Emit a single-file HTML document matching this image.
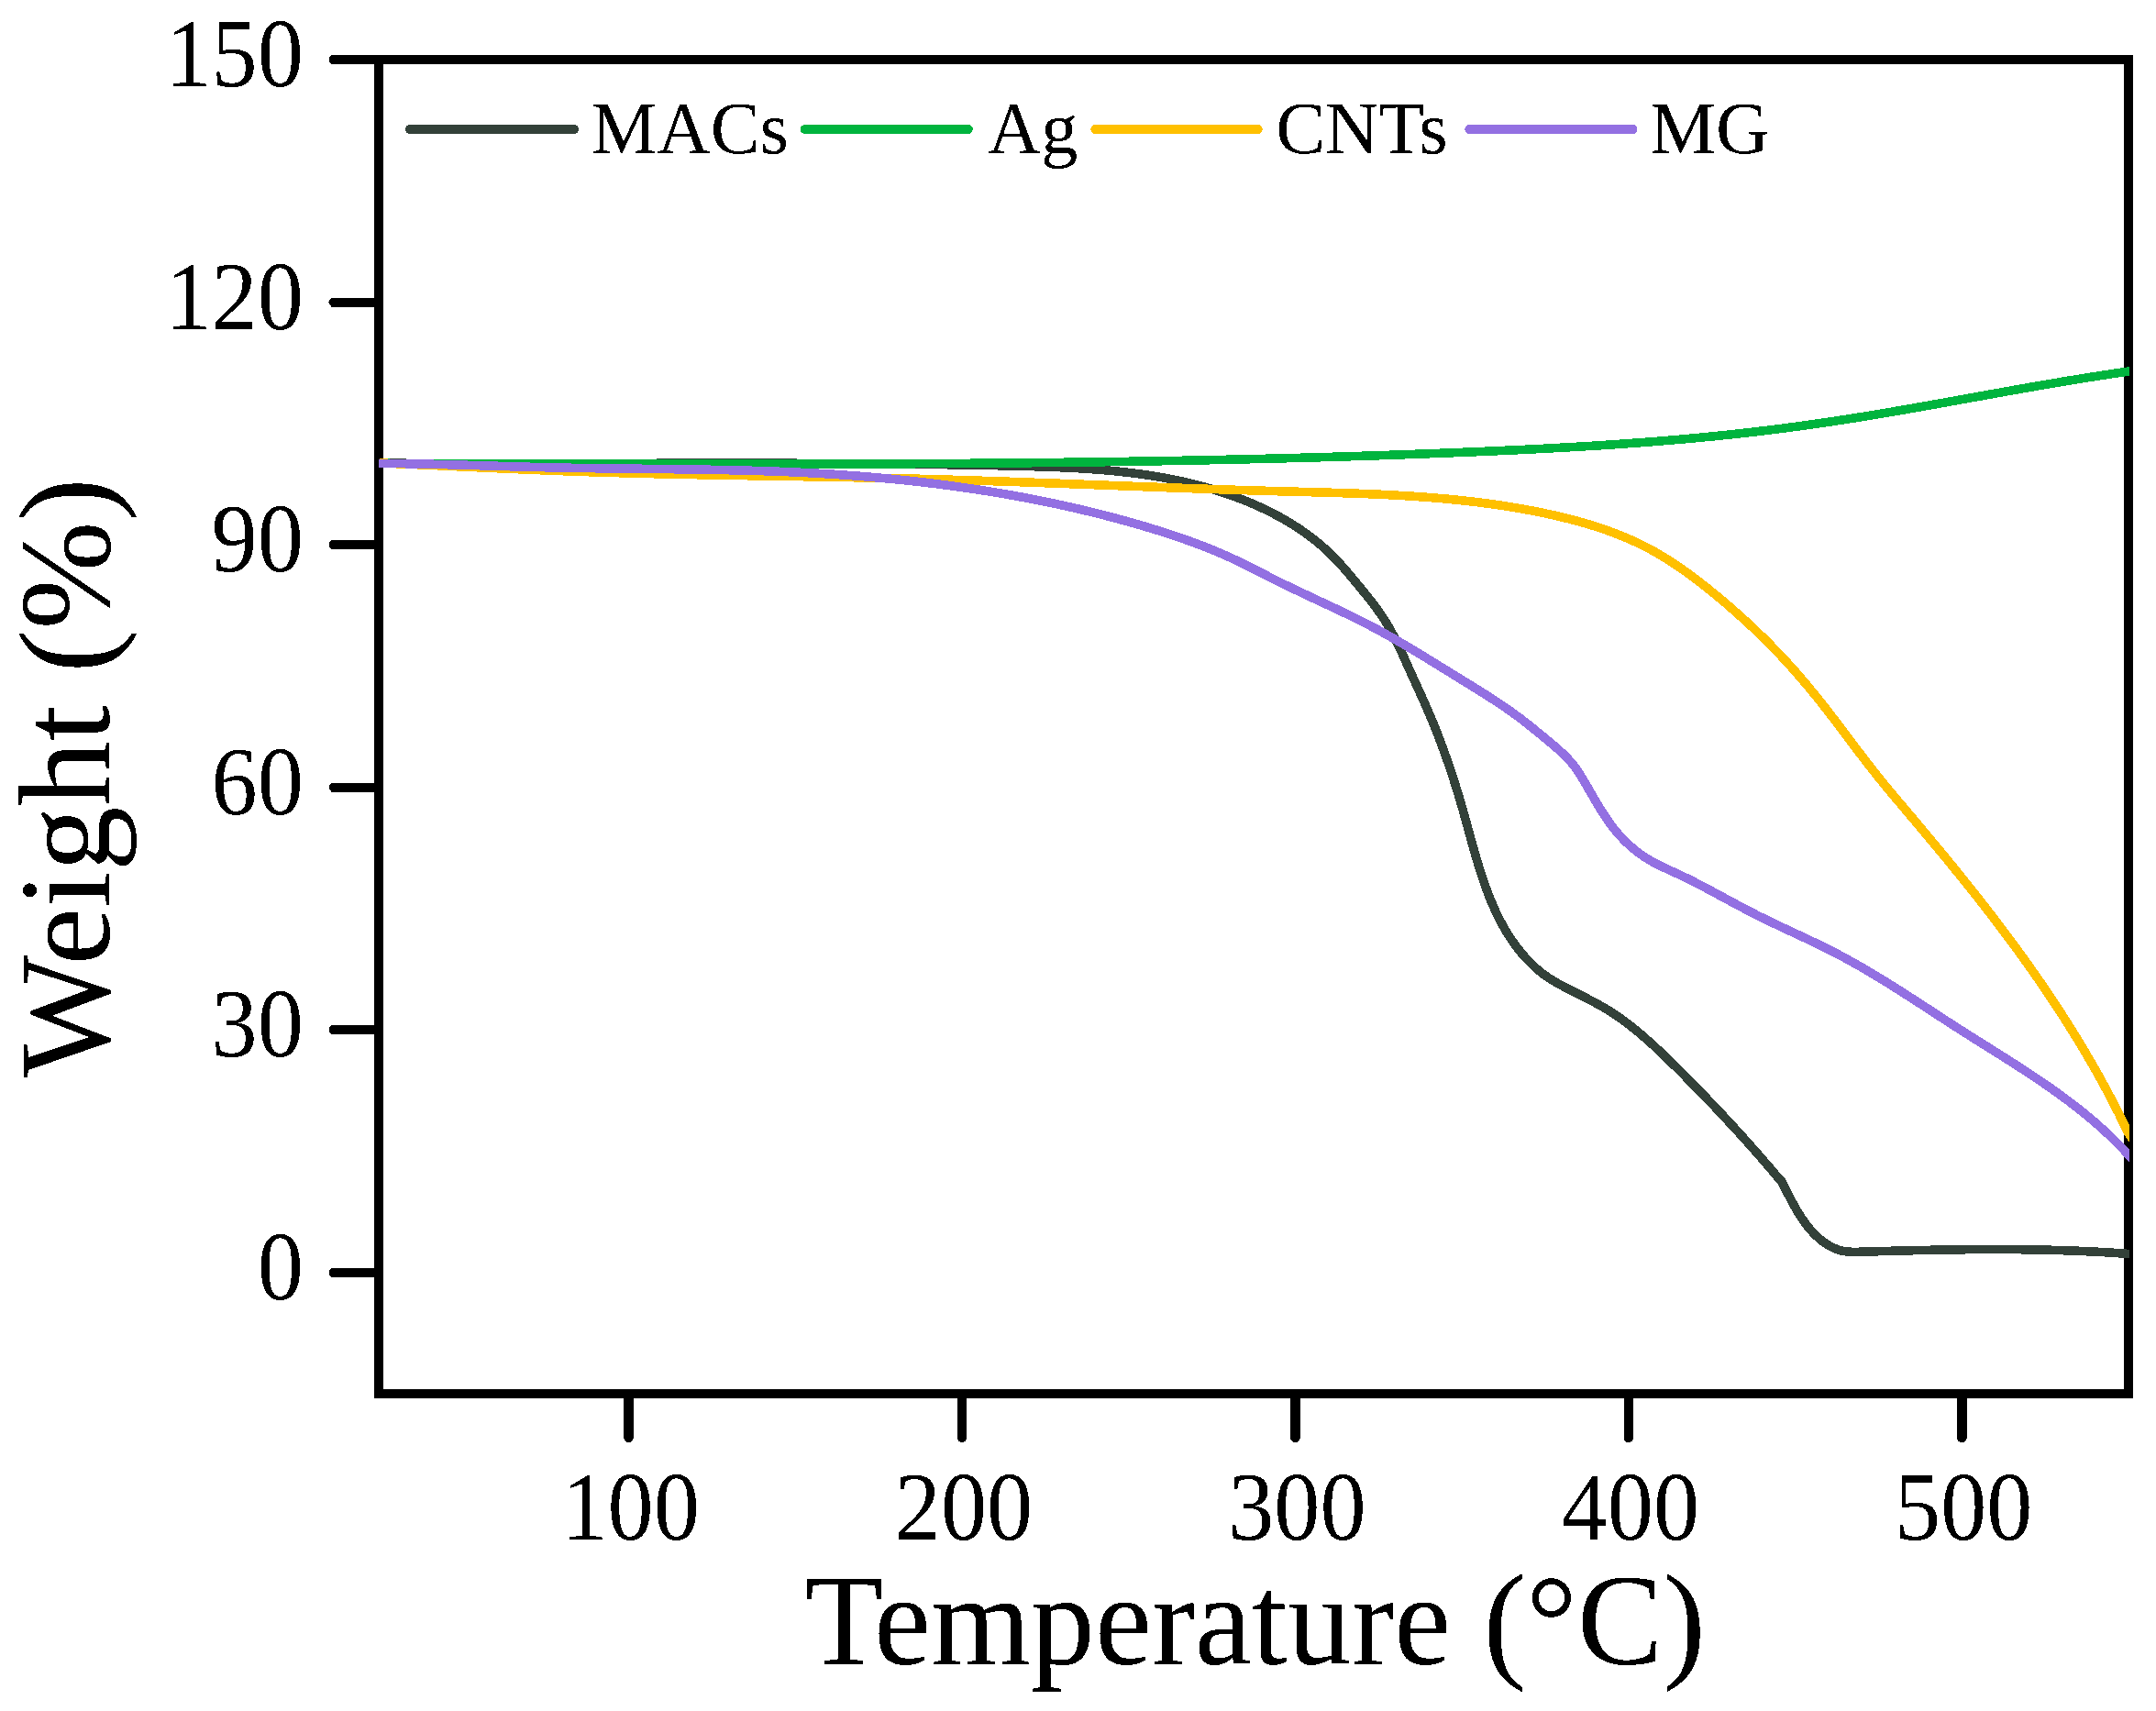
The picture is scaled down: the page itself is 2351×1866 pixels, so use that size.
<!DOCTYPE html><html><head><meta charset="utf-8"><title>TGA curves</title><style>html,body{margin:0;padding:0;background:#fff}svg{display:block}text{font-family:"Liberation Serif","Times New Roman",serif;fill:#000}</style></head><body>
<svg xmlns="http://www.w3.org/2000/svg" width="2351" height="1866" viewBox="0 0 2351 1866" shape-rendering="crispEdges">
<defs><filter id="bin" x="0" y="0" width="1" height="1" color-interpolation-filters="sRGB"><feComponentTransfer><feFuncA type="discrete" tableValues="0 1"/></feComponentTransfer></filter></defs>
<rect width="2351" height="1866" fill="#fff"/>
<rect x="413" y="65" width="1908" height="1455" fill="none" stroke="#000" stroke-width="10"/>
<path d="M361,65.0 H413" stroke="#000" stroke-width="10"/>
<circle cx="363.5" cy="65.0" r="5" fill="#000"/>
<path d="M361,329.5 H413" stroke="#000" stroke-width="10"/>
<circle cx="363.5" cy="329.5" r="5" fill="#000"/>
<path d="M361,594.1 H413" stroke="#000" stroke-width="10"/>
<circle cx="363.5" cy="594.1" r="5" fill="#000"/>
<path d="M361,858.6 H413" stroke="#000" stroke-width="10"/>
<circle cx="363.5" cy="858.6" r="5" fill="#000"/>
<path d="M361,1123.2 H413" stroke="#000" stroke-width="10"/>
<circle cx="363.5" cy="1123.2" r="5" fill="#000"/>
<path d="M361,1387.7 H413" stroke="#000" stroke-width="10"/>
<circle cx="363.5" cy="1387.7" r="5" fill="#000"/>
<path d="M685.6,1520 V1569" stroke="#000" stroke-width="10.5"/>
<circle cx="685.6" cy="1568" r="5.2" fill="#000"/>
<path d="M1049.0,1520 V1569" stroke="#000" stroke-width="10.5"/>
<circle cx="1049.0" cy="1568" r="5.2" fill="#000"/>
<path d="M1412.4,1520 V1569" stroke="#000" stroke-width="10.5"/>
<circle cx="1412.4" cy="1568" r="5.2" fill="#000"/>
<path d="M1775.9,1520 V1569" stroke="#000" stroke-width="10.5"/>
<circle cx="1775.9" cy="1568" r="5.2" fill="#000"/>
<path d="M2139.3,1520 V1569" stroke="#000" stroke-width="10.5"/>
<circle cx="2139.3" cy="1568" r="5.2" fill="#000"/>
<g filter="url(#bin)">
<text transform="translate(330.8,94.1) scale(0.955,1)" font-size="105" text-anchor="end">150</text>
<text transform="translate(330.8,358.6) scale(0.955,1)" font-size="105" text-anchor="end">120</text>
<text transform="translate(330.8,623.2) scale(0.955,1)" font-size="105" text-anchor="end">90</text>
<text transform="translate(330.8,887.7) scale(0.955,1)" font-size="105" text-anchor="end">60</text>
<text transform="translate(330.8,1152.3) scale(0.955,1)" font-size="105" text-anchor="end">30</text>
<text transform="translate(330.8,1416.8) scale(0.955,1)" font-size="105" text-anchor="end">0</text>
<text transform="translate(687.6,1679) scale(0.955,1)" font-size="105" text-anchor="middle">100</text>
<text transform="translate(1051.0,1679) scale(0.955,1)" font-size="105" text-anchor="middle">200</text>
<text transform="translate(1414.4,1679) scale(0.955,1)" font-size="105" text-anchor="middle">300</text>
<text transform="translate(1777.9,1679) scale(0.955,1)" font-size="105" text-anchor="middle">400</text>
<text transform="translate(2141.3,1679) scale(0.955,1)" font-size="105" text-anchor="middle">500</text>
<text transform="translate(877.4,1815) scale(0.9855,1)" font-size="142">Temperature (°C)</text>
<text transform="translate(119,1175.1) rotate(-90) scale(0.9985,1)" font-size="142">Weight (%)</text>
<text x="644.5" y="166.8" font-size="80.8">MACs</text>
<text x="1076.7" y="166.8" font-size="80.8">Ag</text>
<text x="1391.2" y="166.8" font-size="80.8">CNTs</text>
<text x="1799.2" y="166.8" font-size="80.8">MG</text>
</g>
<defs><clipPath id="pa"><rect x="413" y="60" width="1908.8" height="1470"/></clipPath></defs>
<g clip-path="url(#pa)" fill="none" stroke-width="9.6" stroke-linejoin="round">
<path d="M413.00,505.40 L415.82,505.13 L418.84,505.15 L421.86,505.17 L424.88,505.19 L427.90,505.21 L430.92,505.23 L433.94,505.25 L436.96,505.26 L439.98,505.28 L443.00,505.30 L446.01,505.31 L449.03,505.33 L452.05,505.34 L455.07,505.36 L458.08,505.37 L461.10,505.38 L464.11,505.40 L467.13,505.41 L470.14,505.42 L473.16,505.43 L476.17,505.44 L479.18,505.45 L482.20,505.46 L485.21,505.47 L488.22,505.48 L491.23,505.49 L494.25,505.50 L497.26,505.50 L500.27,505.51 L503.28,505.52 L506.29,505.52 L509.30,505.53 L512.31,505.53 L515.32,505.54 L518.33,505.54 L521.33,505.54 L524.34,505.55 L527.35,505.55 L530.36,505.55 L533.36,505.56 L536.37,505.56 L539.38,505.56 L542.38,505.56 L545.39,505.56 L548.40,505.56 L551.40,505.56 L554.41,505.56 L557.41,505.56 L560.42,505.56 L563.42,505.56 L566.42,505.56 L569.43,505.56 L572.43,505.56 L575.43,505.55 L578.44,505.55 L581.44,505.55 L584.44,505.55 L587.45,505.54 L590.45,505.54 L593.45,505.54 L596.45,505.53 L599.45,505.53 L602.45,505.53 L605.45,505.52 L608.46,505.52 L611.46,505.51 L614.46,505.51 L617.46,505.50 L620.46,505.50 L623.46,505.49 L626.46,505.49 L629.46,505.48 L632.45,505.48 L635.45,505.47 L638.45,505.46 L641.45,505.46 L644.45,505.45 L647.45,505.45 L650.45,505.44 L653.44,505.43 L656.44,505.43 L659.44,505.42 L662.44,505.41 L665.44,505.41 L668.43,505.40 L671.43,505.40 L674.43,505.39 L677.42,505.38 L680.42,505.38 L683.42,505.37 L686.42,505.36 L689.41,505.36 L692.41,505.35 L695.41,505.34 L698.40,505.34 L701.40,505.33 L704.39,505.32 L707.39,505.32 L710.39,505.31 L713.38,505.31 L716.38,505.30 L719.37,505.29 L722.37,505.29 L725.37,505.28 L728.36,505.28 L731.36,505.27 L734.35,505.27 L737.35,505.26 L740.34,505.26 L743.34,505.25 L746.34,505.25 L749.33,505.24 L752.33,505.24 L755.32,505.24 L758.32,505.23 L761.31,505.23 L764.31,505.23 L767.30,505.22 L770.30,505.22 L773.30,505.22 L776.29,505.21 L779.29,505.21 L782.28,505.21 L785.28,505.21 L788.27,505.21 L791.27,505.21 L794.27,505.20 L797.26,505.20 L800.26,505.20 L803.25,505.20 L806.25,505.20 L809.25,505.20 L812.24,505.21 L815.24,505.21 L818.23,505.21 L821.23,505.21 L824.23,505.21 L827.22,505.22 L830.22,505.22 L833.22,505.22 L836.21,505.23 L839.21,505.23 L842.21,505.24 L845.21,505.24 L848.20,505.25 L851.20,505.25 L854.20,505.26 L857.19,505.27 L860.19,505.27 L863.19,505.28 L866.19,505.29 L869.19,505.30 L872.19,505.31 L875.18,505.32 L878.18,505.33 L881.18,505.34 L884.18,505.35 L887.18,505.36 L890.18,505.37 L893.18,505.39 L896.18,505.40 L899.18,505.41 L902.18,505.43 L905.18,505.44 L908.18,505.46 L911.18,505.48 L914.18,505.49 L917.18,505.51 L920.18,505.53 L923.18,505.55 L926.19,505.57 L929.19,505.59 L932.19,505.61 L935.19,505.63 L938.20,505.65 L941.20,505.67 L944.20,505.69 L947.21,505.72 L950.21,505.74 L953.21,505.77 L956.22,505.79 L959.22,505.82 L962.23,505.85 L965.23,505.87 L968.24,505.90 L971.24,505.93 L974.25,505.96 L977.25,505.99 L980.26,506.03 L983.27,506.06 L986.28,506.09 L989.28,506.13 L992.29,506.16 L995.30,506.20 L998.31,506.23 L1001.32,506.27 L1004.32,506.31 L1007.33,506.35 L1010.34,506.39 L1013.35,506.43 L1016.36,506.47 L1019.37,506.51 L1022.39,506.55 L1025.40,506.60 L1028.41,506.64 L1031.42,506.69 L1034.43,506.73 L1037.45,506.78 L1040.46,506.83 L1043.47,506.88 L1046.49,506.93 L1049.50,506.98 L1052.52,507.03 L1055.53,507.08 L1058.55,507.14 L1061.56,507.19 L1064.58,507.25 L1067.60,507.30 L1070.61,507.36 L1073.63,507.42 L1076.65,507.48 L1079.67,507.54 L1082.69,507.60 L1085.71,507.67 L1088.73,507.73 L1091.75,507.79 L1094.77,507.86 L1097.79,507.93 L1100.81,508.00 L1103.83,508.06 L1106.86,508.13 L1109.88,508.21 L1112.90,508.28 L1115.92,508.36 L1118.95,508.44 L1121.97,508.52 L1124.99,508.60 L1128.02,508.69 L1131.04,508.78 L1134.06,508.87 L1137.08,508.97 L1140.11,509.07 L1143.13,509.18 L1146.15,509.29 L1149.17,509.41 L1152.19,509.53 L1155.21,509.66 L1158.23,509.79 L1161.24,509.93 L1164.26,510.07 L1167.27,510.22 L1170.29,510.38 L1173.30,510.55 L1176.31,510.72 L1179.32,510.90 L1182.33,511.08 L1185.34,511.28 L1188.34,511.48 L1191.35,511.69 L1194.35,511.91 L1197.35,512.14 L1200.35,512.38 L1203.34,512.63 L1206.34,512.89 L1209.33,513.16 L1212.32,513.43 L1215.31,513.72 L1218.29,514.02 L1221.28,514.33 L1224.26,514.65 L1227.24,514.98 L1230.21,515.33 L1233.19,515.69 L1236.16,516.05 L1239.13,516.43 L1242.09,516.83 L1245.05,517.24 L1248.01,517.66 L1250.97,518.09 L1253.92,518.54 L1256.87,519.00 L1259.82,519.47 L1262.76,519.96 L1265.70,520.47 L1268.64,520.99 L1271.57,521.52 L1274.50,522.07 L1277.42,522.64 L1280.34,523.22 L1283.26,523.82 L1286.17,524.44 L1289.08,525.07 L1291.99,525.72 L1294.89,526.38 L1297.79,527.07 L1300.68,527.77 L1303.57,528.49 L1306.45,529.23 L1309.33,529.98 L1312.21,530.76 L1315.08,531.55 L1317.95,532.37 L1320.81,533.20 L1323.66,534.05 L1326.51,534.93 L1329.36,535.82 L1332.20,536.73 L1335.04,537.67 L1337.87,538.62 L1340.69,539.60 L1343.51,540.60 L1346.33,541.62 L1349.14,542.66 L1351.94,543.73 L1354.74,544.82 L1357.53,545.93 L1360.32,547.06 L1363.10,548.22 L1365.87,549.40 L1368.63,550.60 L1371.39,551.83 L1374.14,553.08 L1376.88,554.36 L1379.61,555.66 L1382.32,556.98 L1385.03,558.33 L1387.72,559.70 L1390.40,561.10 L1393.07,562.52 L1395.72,563.97 L1398.36,565.45 L1400.99,566.95 L1403.59,568.47 L1406.18,570.03 L1408.76,571.60 L1411.31,573.21 L1413.85,574.84 L1416.37,576.50 L1418.87,578.18 L1421.34,579.89 L1423.80,581.63 L1426.24,583.40 L1428.65,585.19 L1431.04,587.01 L1433.40,588.86 L1435.75,590.74 L1438.06,592.64 L1440.35,594.58 L1442.62,596.54 L1444.86,598.53 L1447.07,600.55 L1449.25,602.60 L1451.40,604.68 L1453.53,606.78 L1455.62,608.92 L1457.69,611.08 L1459.73,613.27 L1461.75,615.48 L1463.75,617.72 L1465.73,619.97 L1467.69,622.24 L1469.64,624.52 L1471.58,626.81 L1473.51,629.11 L1475.43,631.42 L1477.35,633.74 L1479.27,636.06 L1481.19,638.37 L1483.11,640.69 L1485.02,643.02 L1486.93,645.34 L1488.82,647.68 L1490.71,650.02 L1492.59,652.36 L1494.44,654.72 L1496.28,657.09 L1498.10,659.48 L1499.90,661.87 L1501.67,664.29 L1503.41,666.72 L1505.13,669.16 L1506.81,671.63 L1508.45,674.12 L1510.06,676.63 L1511.63,679.17 L1513.16,681.73 L1514.66,684.31 L1516.13,686.91 L1517.56,689.52 L1518.97,692.16 L1520.35,694.81 L1521.70,697.48 L1523.04,700.16 L1524.35,702.86 L1525.65,705.56 L1526.94,708.28 L1528.21,711.01 L1529.46,713.74 L1530.71,716.49 L1531.96,719.23 L1533.20,721.99 L1534.43,724.74 L1535.67,727.50 L1536.91,730.26 L1538.15,733.02 L1539.40,735.77 L1540.65,738.53 L1541.91,741.29 L1543.17,744.04 L1544.43,746.80 L1545.69,749.55 L1546.94,752.31 L1548.20,755.06 L1549.45,757.82 L1550.69,760.57 L1551.93,763.33 L1553.16,766.09 L1554.38,768.84 L1555.59,771.60 L1556.79,774.36 L1557.98,777.12 L1559.16,779.88 L1560.32,782.65 L1561.47,785.41 L1562.61,788.18 L1563.74,790.95 L1564.86,793.72 L1565.96,796.49 L1567.06,799.27 L1568.14,802.05 L1569.21,804.82 L1570.27,807.61 L1571.32,810.39 L1572.36,813.18 L1573.39,815.97 L1574.41,818.76 L1575.42,821.56 L1576.42,824.36 L1577.41,827.17 L1578.39,829.97 L1579.36,832.78 L1580.32,835.60 L1581.27,838.42 L1582.21,841.24 L1583.15,844.07 L1584.07,846.90 L1584.99,849.73 L1585.90,852.57 L1586.80,855.42 L1587.69,858.26 L1588.58,861.12 L1589.46,863.98 L1590.33,866.84 L1591.19,869.71 L1592.05,872.58 L1592.89,875.46 L1593.74,878.35 L1594.57,881.24 L1595.40,884.13 L1596.22,887.04 L1597.04,889.94 L1597.85,892.86 L1598.66,895.77 L1599.46,898.69 L1600.27,901.62 L1601.07,904.54 L1601.88,907.47 L1602.68,910.40 L1603.49,913.33 L1604.29,916.25 L1605.11,919.18 L1605.92,922.11 L1606.75,925.04 L1607.58,927.96 L1608.41,930.88 L1609.26,933.80 L1610.11,936.71 L1610.98,939.62 L1611.85,942.52 L1612.74,945.42 L1613.64,948.31 L1614.56,951.19 L1615.49,954.07 L1616.43,956.94 L1617.39,959.80 L1618.37,962.65 L1619.37,965.49 L1620.39,968.32 L1621.42,971.14 L1622.48,973.95 L1623.56,976.74 L1624.67,979.53 L1625.79,982.29 L1626.95,985.05 L1628.13,987.79 L1629.33,990.52 L1630.56,993.23 L1631.82,995.92 L1633.12,998.60 L1634.44,1001.26 L1635.79,1003.90 L1637.17,1006.52 L1638.59,1009.12 L1640.04,1011.71 L1641.53,1014.27 L1643.05,1016.81 L1644.61,1019.34 L1646.21,1021.83 L1647.85,1024.31 L1649.52,1026.76 L1651.24,1029.19 L1653.00,1031.60 L1654.80,1033.98 L1656.64,1036.33 L1658.53,1038.66 L1660.46,1040.96 L1662.44,1043.23 L1664.47,1045.48 L1666.54,1047.69 L1668.66,1049.87 L1670.82,1052.00 L1673.03,1054.09 L1675.28,1056.13 L1677.58,1058.12 L1679.92,1060.05 L1682.30,1061.91 L1684.72,1063.71 L1687.19,1065.44 L1689.69,1067.10 L1692.23,1068.70 L1694.80,1070.25 L1697.40,1071.75 L1700.02,1073.21 L1702.66,1074.64 L1705.31,1076.04 L1707.97,1077.43 L1710.64,1078.80 L1713.31,1080.16 L1715.99,1081.52 L1718.67,1082.87 L1721.35,1084.21 L1724.02,1085.56 L1726.70,1086.92 L1729.37,1088.28 L1732.03,1089.65 L1734.69,1091.03 L1737.34,1092.43 L1739.97,1093.84 L1742.59,1095.28 L1745.20,1096.73 L1747.79,1098.22 L1750.37,1099.73 L1752.92,1101.27 L1755.46,1102.85 L1757.97,1104.46 L1760.47,1106.10 L1762.95,1107.77 L1765.40,1109.46 L1767.85,1111.19 L1770.27,1112.94 L1772.68,1114.72 L1775.07,1116.53 L1777.44,1118.36 L1779.80,1120.21 L1782.15,1122.08 L1784.48,1123.98 L1786.79,1125.90 L1789.09,1127.83 L1791.38,1129.79 L1793.66,1131.76 L1795.93,1133.75 L1798.18,1135.76 L1800.42,1137.78 L1802.65,1139.81 L1804.88,1141.86 L1807.09,1143.92 L1809.29,1145.99 L1811.49,1148.07 L1813.67,1150.16 L1815.85,1152.26 L1818.02,1154.36 L1820.18,1156.47 L1822.34,1158.59 L1824.49,1160.71 L1826.64,1162.84 L1828.78,1164.96 L1830.92,1167.09 L1833.05,1169.23 L1835.18,1171.36 L1837.30,1173.49 L1839.42,1175.63 L1841.54,1177.77 L1843.65,1179.91 L1845.76,1182.05 L1847.86,1184.20 L1849.96,1186.35 L1852.06,1188.50 L1854.15,1190.65 L1856.23,1192.80 L1858.32,1194.96 L1860.40,1197.12 L1862.47,1199.28 L1864.54,1201.44 L1866.61,1203.61 L1868.67,1205.78 L1870.73,1207.96 L1872.79,1210.13 L1874.84,1212.31 L1876.89,1214.49 L1878.93,1216.68 L1880.97,1218.87 L1883.01,1221.06 L1885.05,1223.26 L1887.08,1225.45 L1889.10,1227.66 L1891.13,1229.86 L1893.15,1232.07 L1895.16,1234.28 L1897.17,1236.50 L1899.18,1238.72 L1901.19,1240.95 L1903.19,1243.17 L1905.19,1245.41 L1907.19,1247.64 L1909.18,1249.88 L1911.17,1252.13 L1913.16,1254.38 L1915.14,1256.63 L1917.12,1258.89 L1919.10,1261.15 L1921.07,1263.42 L1923.04,1265.69 L1925.01,1267.97 L1926.98,1270.25 L1928.94,1272.53 L1930.90,1274.82 L1932.86,1277.12 L1934.81,1279.42 L1936.76,1281.72 L1938.71,1284.03 L1940.65,1286.35 L1942.80,1288.40 L1944.02,1291.20 L1945.35,1293.75 L1946.68,1296.33 L1948.03,1298.94 L1949.38,1301.57 L1950.76,1304.23 L1952.15,1306.89 L1953.57,1309.56 L1955.01,1312.23 L1956.49,1314.91 L1957.99,1317.57 L1959.53,1320.22 L1961.11,1322.85 L1962.74,1325.47 L1964.41,1328.05 L1966.12,1330.60 L1967.90,1333.11 L1969.72,1335.58 L1971.61,1338.00 L1973.55,1340.37 L1975.56,1342.68 L1977.64,1344.93 L1979.79,1347.10 L1982.00,1349.19 L1984.27,1351.20 L1986.61,1353.10 L1989.00,1354.90 L1991.45,1356.59 L1993.96,1358.15 L1996.53,1359.57 L1999.15,1360.86 L2001.82,1361.99 L2004.54,1362.97 L2007.31,1363.78 L2010.13,1364.42 L2012.99,1364.87 L2015.90,1365.16 L2018.83,1365.32 L2021.79,1365.38 L2024.78,1365.36 L2027.77,1365.29 L2030.77,1365.20 L2033.77,1365.12 L2036.77,1365.03 L2039.77,1364.94 L2042.77,1364.86 L2045.77,1364.77 L2048.77,1364.68 L2051.77,1364.60 L2054.77,1364.52 L2057.77,1364.43 L2060.77,1364.35 L2063.77,1364.27 L2066.77,1364.19 L2069.77,1364.12 L2072.77,1364.04 L2075.77,1363.96 L2078.77,1363.89 L2081.78,1363.82 L2084.78,1363.74 L2087.78,1363.67 L2090.78,1363.61 L2093.78,1363.54 L2096.78,1363.47 L2099.79,1363.41 L2102.79,1363.35 L2105.79,1363.29 L2108.79,1363.23 L2111.79,1363.17 L2114.80,1363.12 L2117.80,1363.07 L2120.80,1363.02 L2123.80,1362.97 L2126.81,1362.93 L2129.81,1362.88 L2132.81,1362.84 L2135.81,1362.80 L2138.82,1362.77 L2141.82,1362.73 L2144.82,1362.70 L2147.82,1362.67 L2150.83,1362.65 L2153.83,1362.63 L2156.83,1362.61 L2159.83,1362.59 L2162.84,1362.58 L2165.84,1362.56 L2168.84,1362.56 L2171.84,1362.55 L2174.85,1362.55 L2177.85,1362.55 L2180.85,1362.56 L2183.85,1362.56 L2186.86,1362.58 L2189.86,1362.59 L2192.86,1362.61 L2195.86,1362.63 L2198.86,1362.66 L2201.86,1362.68 L2204.87,1362.72 L2207.87,1362.75 L2210.87,1362.79 L2213.87,1362.84 L2216.87,1362.89 L2219.87,1362.94 L2222.87,1363.00 L2225.87,1363.06 L2228.87,1363.12 L2231.88,1363.19 L2234.88,1363.26 L2237.88,1363.34 L2240.88,1363.42 L2243.88,1363.51 L2246.88,1363.60 L2249.88,1363.70 L2252.87,1363.80 L2255.87,1363.90 L2258.87,1364.01 L2261.87,1364.12 L2264.87,1364.24 L2267.87,1364.37 L2270.87,1364.50 L2273.87,1364.63 L2276.86,1364.77 L2279.86,1364.91 L2282.86,1365.06 L2285.86,1365.22 L2288.85,1365.38 L2291.85,1365.54 L2294.85,1365.72 L2297.84,1365.89 L2300.84,1366.07 L2303.83,1366.26 L2306.83,1366.46 L2309.82,1366.65 L2312.82,1366.86 L2315.81,1367.07 L2318.81,1367.29 L2321.80,1367.50 L2329.78,1368.07" stroke="#334139"/>
<path d="M413.00,505.40 L415.82,505.13 L418.84,505.15 L421.86,505.17 L424.88,505.19 L427.90,505.21 L430.92,505.23 L433.94,505.25 L436.96,505.26 L439.98,505.28 L443.00,505.30 L446.01,505.31 L449.03,505.33 L452.05,505.34 L455.07,505.36 L458.08,505.37 L461.10,505.38 L464.11,505.40 L467.13,505.41 L470.14,505.42 L473.16,505.43 L476.17,505.44 L479.18,505.45 L482.20,505.46 L485.21,505.47 L488.22,505.48 L491.23,505.49 L494.25,505.50 L497.26,505.50 L500.27,505.51 L503.28,505.52 L506.29,505.52 L509.30,505.53 L512.31,505.53 L515.32,505.54 L518.33,505.54 L521.33,505.54 L524.34,505.55 L527.35,505.55 L530.36,505.55 L533.36,505.56 L536.37,505.56 L539.38,505.56 L542.38,505.56 L545.39,505.56 L548.40,505.56 L551.40,505.56 L554.41,505.56 L557.41,505.56 L560.42,505.56 L563.42,505.56 L566.42,505.56 L569.43,505.56 L572.43,505.56 L575.43,505.55 L578.44,505.55 L581.44,505.55 L584.44,505.55 L587.45,505.54 L590.45,505.54 L593.45,505.54 L596.45,505.53 L599.45,505.53 L602.45,505.53 L605.45,505.52 L608.46,505.52 L611.46,505.51 L614.46,505.51 L617.46,505.50 L620.46,505.50 L623.46,505.49 L626.46,505.49 L629.46,505.48 L632.45,505.48 L635.45,505.47 L638.45,505.46 L641.45,505.46 L644.45,505.45 L647.45,505.45 L650.45,505.44 L653.44,505.43 L656.44,505.43 L659.44,505.42 L662.44,505.41 L665.44,505.41 L668.43,505.40 L671.43,505.40 L674.43,505.39 L677.42,505.38 L680.42,505.38 L683.42,505.37 L686.42,505.36 L689.41,505.36 L692.41,505.35 L695.41,505.34 L698.40,505.34 L701.40,505.33 L704.39,505.32 L707.39,505.32 L710.39,505.31 L713.38,505.31 L716.38,505.30 L719.37,505.29 L722.37,505.29 L725.37,505.28 L728.36,505.28 L731.36,505.27 L734.35,505.27 L737.35,505.26 L740.34,505.26 L743.34,505.25 L746.34,505.25 L749.33,505.24 L752.33,505.24 L755.32,505.24 L758.32,505.23 L761.31,505.23 L764.31,505.23 L767.30,505.22 L770.30,505.22 L773.30,505.22 L776.29,505.21 L779.29,505.21 L782.28,505.21 L785.28,505.21 L788.27,505.21 L791.27,505.21 L794.27,505.20 L797.26,505.20 L800.26,505.20 L803.25,505.20 L806.25,505.20 L809.25,505.20 L812.24,505.21 L815.24,505.21 L818.23,505.21 L821.23,505.21 L824.23,505.21 L827.22,505.22 L830.22,505.22 L833.22,505.22 L836.21,505.23 L839.21,505.23 L842.21,505.24 L845.21,505.24 L848.20,505.25 L851.20,505.25 L854.20,505.26 L857.19,505.27 L860.19,505.27 L863.19,505.28 L866.19,505.29 L869.19,505.30 L872.19,505.31 L875.18,505.32 L878.18,505.33 L881.18,505.34 L884.18,505.35 L887.18,505.36 L890.18,505.37 L893.18,505.39 L896.18,505.40 L899.18,505.41 L902.18,505.43 L905.18,505.44 L908.18,505.46 L911.18,505.48 L914.18,505.49 L917.18,505.51 L920.18,505.53 L923.18,505.55 L926.19,505.57 L929.19,505.59 L932.19,505.61 L935.19,505.63 L938.20,505.65 L941.20,505.67 L944.20,505.69 L947.21,505.72 L950.21,505.74 L953.21,505.77 L956.22,505.79 L959.22,505.82 L962.23,505.85 L965.23,505.87 L968.24,505.90 L971.24,505.93 L974.25,505.96 L977.25,505.99 L980.26,506.03 L983.27,506.06 L986.28,506.09 L989.28,506.13 L992.29,506.16 L995.30,506.20 L998.31,506.23 L1001.32,506.27 L1004.32,506.31 L1007.33,506.35 L1010.34,506.39 L1013.35,506.43 L1016.36,506.47 L1019.37,506.51 L1022.39,506.55 L1025.40,506.60 L1028.41,506.64 L1031.42,506.69 L1034.43,506.73 L1037.45,506.78 L1040.46,506.83 L1043.47,506.88 L1046.49,506.93 L1049.50,506.98 L1052.52,507.03 L1055.53,507.08 L1058.55,507.14 L1061.56,507.19 L1064.58,507.25 L1067.60,507.30 L1070.61,507.36 L1073.63,507.42 L1076.65,507.48 L1079.67,507.54 L1082.69,507.60 L1085.71,507.67 L1088.73,507.73 L1091.75,507.79 L1094.77,507.86 L1097.79,507.93 L1100.81,508.00 L1103.83,508.06 L1106.86,508.13 L1109.88,508.21 L1112.90,508.28 L1115.92,508.36 L1118.95,508.44 L1121.97,508.52 L1124.99,508.60 L1128.02,508.69 L1131.04,508.78 L1134.06,508.87 L1137.08,508.97 L1140.11,509.07 L1143.13,509.18 L1146.15,509.29 L1149.17,509.41 L1152.19,509.53 L1155.21,509.66 L1158.23,509.79 L1161.24,509.93 L1164.26,510.07 L1167.27,510.22 L1170.29,510.38 L1173.30,510.55 L1176.31,510.72 L1179.32,510.90 L1182.33,511.08 L1185.34,511.28 L1188.34,511.48 L1191.35,511.69 L1194.35,511.91 L1197.35,512.14 L1200.35,512.38 L1203.34,512.63 L1206.34,512.89 L1209.33,513.16 L1212.32,513.43 L1215.31,513.72 L1218.29,514.02 L1221.28,514.33 L1224.26,514.65 L1227.24,514.98 L1230.21,515.33 L1233.19,515.69 L1236.16,516.05 L1239.13,516.43 L1242.09,516.83 L1245.05,517.24 L1248.01,517.66 L1250.97,518.09 L1253.92,518.54 L1256.87,519.00 L1259.82,519.47 L1262.76,519.96 L1265.70,520.47 L1268.64,520.99 L1271.57,521.52 L1274.50,522.07 L1277.42,522.64 L1280.34,523.22 L1283.26,523.82 L1286.17,524.44 L1289.08,525.07 L1291.99,525.72 L1294.89,526.38 L1297.79,527.07 L1300.68,527.77 L1303.57,528.49 L1306.45,529.23 L1309.33,529.98 L1312.21,530.76 L1315.08,531.55 L1317.95,532.37 L1320.81,533.20 L1323.66,534.05 L1326.51,534.93 L1329.36,535.82 L1332.20,536.73 L1335.04,537.67 L1337.87,538.62 L1340.69,539.60 L1343.51,540.60 L1346.33,541.62 L1349.14,542.66 L1351.94,543.73 L1354.74,544.82 L1357.53,545.93 L1360.32,547.06 L1363.10,548.22 L1365.87,549.40 L1368.63,550.60 L1371.39,551.83 L1374.14,553.08 L1376.88,554.36 L1379.61,555.66 L1382.32,556.98 L1385.03,558.33 L1387.72,559.70 L1390.40,561.10 L1393.07,562.52 L1395.72,563.97 L1398.36,565.45 L1400.99,566.95 L1403.59,568.47 L1406.18,570.03 L1408.76,571.60 L1411.31,573.21 L1413.85,574.84 L1416.37,576.50 L1418.87,578.18 L1421.34,579.89 L1423.80,581.63 L1426.24,583.40 L1428.65,585.19 L1431.04,587.01 L1433.40,588.86 L1435.75,590.74 L1438.06,592.64 L1440.35,594.58 L1442.62,596.54 L1444.86,598.53 L1447.07,600.55 L1449.25,602.60 L1451.40,604.68 L1453.53,606.78 L1455.62,608.92 L1457.69,611.08 L1459.73,613.27 L1461.75,615.48 L1463.75,617.72 L1465.73,619.97 L1467.69,622.24 L1469.64,624.52 L1471.58,626.81 L1473.51,629.11 L1475.43,631.42 L1477.35,633.74 L1479.27,636.06 L1481.19,638.37 L1483.11,640.69 L1485.02,643.02 L1486.93,645.34 L1488.82,647.68 L1490.71,650.02 L1492.59,652.36 L1494.44,654.72 L1496.28,657.09 L1498.10,659.48 L1499.90,661.87 L1501.67,664.29 L1503.41,666.72 L1505.13,669.16 L1506.81,671.63 L1508.45,674.12 L1510.06,676.63 L1511.63,679.17 L1513.16,681.73 L1514.66,684.31 L1516.13,686.91 L1517.56,689.52 L1518.97,692.16 L1520.35,694.81 L1521.70,697.48 L1523.04,700.16 L1524.35,702.86 L1525.65,705.56 L1526.94,708.28 L1528.21,711.01 L1529.46,713.74 L1530.71,716.49 L1531.96,719.23 L1533.20,721.99 L1534.43,724.74 L1535.67,727.50 L1536.91,730.26 L1538.15,733.02 L1539.40,735.77 L1540.65,738.53 L1541.91,741.29 L1543.17,744.04 L1544.43,746.80 L1545.69,749.55 L1546.94,752.31 L1548.20,755.06 L1549.45,757.82 L1550.69,760.57 L1551.93,763.33 L1553.16,766.09 L1554.38,768.84 L1555.59,771.60 L1556.79,774.36 L1557.98,777.12 L1559.16,779.88 L1560.32,782.65 L1561.47,785.41 L1562.61,788.18 L1563.74,790.95 L1564.86,793.72 L1565.96,796.49 L1567.06,799.27 L1568.14,802.05 L1569.21,804.82 L1570.27,807.61 L1571.32,810.39 L1572.36,813.18 L1573.39,815.97 L1574.41,818.76 L1575.42,821.56 L1576.42,824.36 L1577.41,827.17 L1578.39,829.97 L1579.36,832.78 L1580.32,835.60 L1581.27,838.42 L1582.21,841.24 L1583.15,844.07 L1584.07,846.90 L1584.99,849.73 L1585.90,852.57 L1586.80,855.42 L1587.69,858.26 L1588.58,861.12 L1589.46,863.98 L1590.33,866.84 L1591.19,869.71 L1592.05,872.58 L1592.89,875.46 L1593.74,878.35 L1594.57,881.24 L1595.40,884.13 L1596.22,887.04 L1597.04,889.94 L1597.85,892.86 L1598.66,895.77 L1599.46,898.69 L1600.27,901.62 L1601.07,904.54 L1601.88,907.47 L1602.68,910.40 L1603.49,913.33 L1604.29,916.25 L1605.11,919.18 L1605.92,922.11 L1606.75,925.04 L1607.58,927.96 L1608.41,930.88 L1609.26,933.80 L1610.11,936.71 L1610.98,939.62 L1611.85,942.52 L1612.74,945.42 L1613.64,948.31 L1614.56,951.19 L1615.49,954.07 L1616.43,956.94 L1617.39,959.80 L1618.37,962.65 L1619.37,965.49 L1620.39,968.32 L1621.42,971.14 L1622.48,973.95 L1623.56,976.74 L1624.67,979.53 L1625.79,982.29 L1626.95,985.05 L1628.13,987.79 L1629.33,990.52 L1630.56,993.23 L1631.82,995.92 L1633.12,998.60 L1634.44,1001.26 L1635.79,1003.90 L1637.17,1006.52 L1638.59,1009.12 L1640.04,1011.71 L1641.53,1014.27 L1643.05,1016.81 L1644.61,1019.34 L1646.21,1021.83 L1647.85,1024.31 L1649.52,1026.76 L1651.24,1029.19 L1653.00,1031.60 L1654.80,1033.98 L1656.64,1036.33 L1658.53,1038.66 L1660.46,1040.96 L1662.44,1043.23 L1664.47,1045.48 L1666.54,1047.69 L1668.66,1049.87 L1670.82,1052.00 L1673.03,1054.09 L1675.28,1056.13 L1677.58,1058.12 L1679.92,1060.05 L1682.30,1061.91 L1684.72,1063.71 L1687.19,1065.44 L1689.69,1067.10 L1692.23,1068.70 L1694.80,1070.25 L1697.40,1071.75 L1700.02,1073.21 L1702.66,1074.64 L1705.31,1076.04 L1707.97,1077.43 L1710.64,1078.80 L1713.31,1080.16 L1715.99,1081.52 L1718.67,1082.87 L1721.35,1084.21 L1724.02,1085.56 L1726.70,1086.92 L1729.37,1088.28 L1732.03,1089.65 L1734.69,1091.03 L1737.34,1092.43 L1739.97,1093.84 L1742.59,1095.28 L1745.20,1096.73 L1747.79,1098.22 L1750.37,1099.73 L1752.92,1101.27 L1755.46,1102.85 L1757.97,1104.46 L1760.47,1106.10 L1762.95,1107.77 L1765.40,1109.46 L1767.85,1111.19 L1770.27,1112.94 L1772.68,1114.72 L1775.07,1116.53 L1777.44,1118.36 L1779.80,1120.21 L1782.15,1122.08 L1784.48,1123.98 L1786.79,1125.90 L1789.09,1127.83 L1791.38,1129.79 L1793.66,1131.76 L1795.93,1133.75 L1798.18,1135.76 L1800.42,1137.78 L1802.65,1139.81 L1804.88,1141.86 L1807.09,1143.92 L1809.29,1145.99 L1811.49,1148.07 L1813.67,1150.16 L1815.85,1152.26 L1818.02,1154.36 L1820.18,1156.47 L1822.34,1158.59 L1824.49,1160.71 L1826.64,1162.84 L1828.78,1164.96 L1830.92,1167.09 L1833.05,1169.23 L1835.18,1171.36 L1837.30,1173.49 L1839.42,1175.63 L1841.54,1177.77 L1843.65,1179.91 L1845.76,1182.05 L1847.86,1184.20 L1849.96,1186.35 L1852.06,1188.50 L1854.15,1190.65 L1856.23,1192.80 L1858.32,1194.96 L1860.40,1197.12 L1862.47,1199.28 L1864.54,1201.44 L1866.61,1203.61 L1868.67,1205.78 L1870.73,1207.96 L1872.79,1210.13 L1874.84,1212.31 L1876.89,1214.49 L1878.93,1216.68 L1880.97,1218.87 L1883.01,1221.06 L1885.05,1223.26 L1887.08,1225.45 L1889.10,1227.66 L1891.13,1229.86 L1893.15,1232.07 L1895.16,1234.28 L1897.17,1236.50 L1899.18,1238.72 L1901.19,1240.95 L1903.19,1243.17 L1905.19,1245.41 L1907.19,1247.64 L1909.18,1249.88 L1911.17,1252.13 L1913.16,1254.38 L1915.14,1256.63 L1917.12,1258.89 L1919.10,1261.15 L1921.07,1263.42 L1923.04,1265.69 L1925.01,1267.97 L1926.98,1270.25 L1928.94,1272.53 L1930.90,1274.82 L1932.86,1277.12 L1934.81,1279.42 L1936.76,1281.72 L1938.71,1284.03 L1940.65,1286.35 L1942.80,1288.40 L1944.02,1291.20 L1945.35,1293.75 L1946.68,1296.33 L1948.03,1298.94 L1949.38,1301.57 L1950.76,1304.23 L1952.15,1306.89 L1953.57,1309.56 L1955.01,1312.23 L1956.49,1314.91 L1957.99,1317.57 L1959.53,1320.22 L1961.11,1322.85 L1962.74,1325.47 L1964.41,1328.05 L1966.12,1330.60 L1967.90,1333.11 L1969.72,1335.58 L1971.61,1338.00 L1973.55,1340.37 L1975.56,1342.68 L1977.64,1344.93 L1979.79,1347.10 L1982.00,1349.19 L1984.27,1351.20 L1986.61,1353.10 L1989.00,1354.90 L1991.45,1356.59 L1993.96,1358.15 L1996.53,1359.57 L1999.15,1360.86 L2001.82,1361.99 L2004.54,1362.97 L2007.31,1363.78 L2010.13,1364.42 L2012.99,1364.87 L2015.90,1365.16 L2018.83,1365.32 L2021.79,1365.38 L2024.78,1365.36 L2027.77,1365.29 L2030.77,1365.20 L2033.77,1365.12 L2036.77,1365.03 L2039.77,1364.94 L2042.77,1364.86 L2045.77,1364.77 L2048.77,1364.68 L2051.77,1364.60 L2054.77,1364.52 L2057.77,1364.43 L2060.77,1364.35 L2063.77,1364.27 L2066.77,1364.19 L2069.77,1364.12 L2072.77,1364.04 L2075.77,1363.96 L2078.77,1363.89 L2081.78,1363.82 L2084.78,1363.74 L2087.78,1363.67 L2090.78,1363.61 L2093.78,1363.54 L2096.78,1363.47 L2099.79,1363.41 L2102.79,1363.35 L2105.79,1363.29 L2108.79,1363.23 L2111.79,1363.17 L2114.80,1363.12 L2117.80,1363.07 L2120.80,1363.02 L2123.80,1362.97 L2126.81,1362.93 L2129.81,1362.88 L2132.81,1362.84 L2135.81,1362.80 L2138.82,1362.77 L2141.82,1362.73 L2144.82,1362.70 L2147.82,1362.67 L2150.83,1362.65 L2153.83,1362.63 L2156.83,1362.61 L2159.83,1362.59 L2162.84,1362.58 L2165.84,1362.56 L2168.84,1362.56 L2171.84,1362.55 L2174.85,1362.55 L2177.85,1362.55 L2180.85,1362.56 L2183.85,1362.56 L2186.86,1362.58 L2189.86,1362.59 L2192.86,1362.61 L2195.86,1362.63 L2198.86,1362.66 L2201.86,1362.68 L2204.87,1362.72 L2207.87,1362.75 L2210.87,1362.79 L2213.87,1362.84 L2216.87,1362.89 L2219.87,1362.94 L2222.87,1363.00 L2225.87,1363.06 L2228.87,1363.12 L2231.88,1363.19 L2234.88,1363.26 L2237.88,1363.34 L2240.88,1363.42 L2243.88,1363.51 L2246.88,1363.60 L2249.88,1363.70 L2252.87,1363.80 L2255.87,1363.90 L2258.87,1364.01 L2261.87,1364.12 L2264.87,1364.24 L2267.87,1364.37 L2270.87,1364.50 L2273.87,1364.63 L2276.86,1364.77 L2279.86,1364.91 L2282.86,1365.06 L2285.86,1365.22 L2288.85,1365.38 L2291.85,1365.54 L2294.85,1365.72 L2297.84,1365.89 L2300.84,1366.07 L2303.83,1366.26 L2306.83,1366.46 L2309.82,1366.65 L2312.82,1366.86 L2315.81,1367.07 L2318.81,1367.29 L2321.80,1367.50 L2329.78,1368.07" stroke="#334139" stroke-width="5"/>
<path d="M413.00,505.40 L415.99,505.27 L419.00,505.28 L422.00,505.29 L425.00,505.30 L428.00,505.30 L431.01,505.31 L434.01,505.32 L437.01,505.33 L440.01,505.33 L443.01,505.34 L446.02,505.35 L449.02,505.36 L452.02,505.36 L455.02,505.37 L458.03,505.38 L461.03,505.39 L464.03,505.40 L467.03,505.40 L470.04,505.41 L473.04,505.42 L476.04,505.43 L479.04,505.44 L482.05,505.45 L485.05,505.45 L488.05,505.46 L491.05,505.47 L494.06,505.48 L497.06,505.49 L500.06,505.50 L503.06,505.51 L506.07,505.51 L509.07,505.52 L512.07,505.53 L515.07,505.54 L518.07,505.55 L521.08,505.56 L524.08,505.57 L527.08,505.58 L530.08,505.58 L533.09,505.59 L536.09,505.60 L539.09,505.61 L542.09,505.62 L545.10,505.63 L548.10,505.64 L551.10,505.65 L554.10,505.66 L557.11,505.66 L560.11,505.67 L563.11,505.68 L566.11,505.69 L569.11,505.70 L572.12,505.71 L575.12,505.72 L578.12,505.73 L581.12,505.73 L584.13,505.74 L587.13,505.75 L590.13,505.76 L593.13,505.77 L596.13,505.78 L599.14,505.79 L602.14,505.79 L605.14,505.80 L608.14,505.81 L611.15,505.82 L614.15,505.83 L617.15,505.83 L620.15,505.84 L623.16,505.85 L626.16,505.86 L629.16,505.87 L632.16,505.87 L635.16,505.88 L638.17,505.89 L641.17,505.90 L644.17,505.91 L647.17,505.91 L650.18,505.92 L653.18,505.93 L656.18,505.93 L659.18,505.94 L662.18,505.95 L665.19,505.96 L668.19,505.96 L671.19,505.97 L674.19,505.98 L677.19,505.98 L680.20,505.99 L683.20,506.00 L686.20,506.00 L689.20,506.01 L692.21,506.02 L695.21,506.02 L698.21,506.03 L701.21,506.03 L704.21,506.04 L707.22,506.04 L710.22,506.05 L713.22,506.06 L716.22,506.06 L719.22,506.07 L722.23,506.07 L725.23,506.08 L728.23,506.08 L731.23,506.08 L734.24,506.09 L737.24,506.09 L740.24,506.10 L743.24,506.10 L746.24,506.11 L749.25,506.11 L752.25,506.11 L755.25,506.12 L758.25,506.12 L761.25,506.12 L764.26,506.13 L767.26,506.13 L770.26,506.13 L773.26,506.13 L776.26,506.14 L779.27,506.14 L782.27,506.14 L785.27,506.14 L788.27,506.14 L791.27,506.14 L794.28,506.15 L797.28,506.15 L800.28,506.15 L803.28,506.15 L806.28,506.15 L809.29,506.15 L812.29,506.15 L815.29,506.15 L818.29,506.15 L821.29,506.15 L824.30,506.15 L827.30,506.15 L830.30,506.15 L833.30,506.15 L836.30,506.14 L839.31,506.14 L842.31,506.14 L845.31,506.14 L848.31,506.14 L851.31,506.13 L854.32,506.13 L857.32,506.13 L860.32,506.12 L863.32,506.12 L866.32,506.12 L869.32,506.11 L872.33,506.11 L875.33,506.11 L878.33,506.10 L881.33,506.10 L884.33,506.09 L887.34,506.09 L890.34,506.08 L893.34,506.07 L896.34,506.07 L899.34,506.06 L902.35,506.06 L905.35,506.05 L908.35,506.04 L911.35,506.03 L914.35,506.03 L917.35,506.02 L920.36,506.01 L923.36,506.00 L926.36,505.99 L929.36,505.98 L932.36,505.98 L935.37,505.97 L938.37,505.96 L941.37,505.95 L944.37,505.94 L947.37,505.93 L950.37,505.91 L953.38,505.90 L956.38,505.89 L959.38,505.88 L962.38,505.87 L965.38,505.86 L968.38,505.84 L971.39,505.83 L974.39,505.82 L977.39,505.80 L980.39,505.79 L983.39,505.77 L986.40,505.76 L989.40,505.74 L992.40,505.73 L995.40,505.71 L998.40,505.70 L1001.40,505.68 L1004.41,505.67 L1007.41,505.65 L1010.41,505.63 L1013.41,505.61 L1016.41,505.60 L1019.41,505.58 L1022.42,505.56 L1025.42,505.54 L1028.42,505.52 L1031.42,505.50 L1034.42,505.48 L1037.42,505.46 L1040.43,505.44 L1043.43,505.42 L1046.43,505.40 L1049.43,505.38 L1052.43,505.36 L1055.43,505.33 L1058.44,505.31 L1061.44,505.29 L1064.44,505.26 L1067.44,505.24 L1070.44,505.22 L1073.44,505.19 L1076.44,505.17 L1079.45,505.14 L1082.45,505.12 L1085.45,505.09 L1088.45,505.06 L1091.45,505.04 L1094.45,505.01 L1097.46,504.98 L1100.46,504.95 L1103.46,504.92 L1106.46,504.90 L1109.46,504.87 L1112.46,504.84 L1115.46,504.81 L1118.47,504.78 L1121.47,504.74 L1124.47,504.71 L1127.47,504.68 L1130.47,504.65 L1133.47,504.62 L1136.48,504.58 L1139.48,504.55 L1142.48,504.52 L1145.48,504.48 L1148.48,504.45 L1151.48,504.41 L1154.48,504.38 L1157.49,504.34 L1160.49,504.30 L1163.49,504.27 L1166.49,504.23 L1169.49,504.19 L1172.49,504.15 L1175.49,504.12 L1178.50,504.08 L1181.50,504.04 L1184.50,504.00 L1187.50,503.96 L1190.50,503.92 L1193.50,503.87 L1196.50,503.83 L1199.51,503.79 L1202.51,503.75 L1205.51,503.70 L1208.51,503.66 L1211.51,503.62 L1214.51,503.57 L1217.51,503.53 L1220.51,503.48 L1223.52,503.43 L1226.52,503.39 L1229.52,503.34 L1232.52,503.29 L1235.52,503.25 L1238.52,503.20 L1241.52,503.15 L1244.53,503.10 L1247.53,503.05 L1250.53,503.00 L1253.53,502.95 L1256.53,502.90 L1259.53,502.84 L1262.53,502.79 L1265.53,502.74 L1268.54,502.68 L1271.54,502.63 L1274.54,502.57 L1277.54,502.52 L1280.54,502.46 L1283.54,502.41 L1286.54,502.35 L1289.54,502.29 L1292.55,502.24 L1295.55,502.18 L1298.55,502.12 L1301.55,502.06 L1304.55,502.00 L1307.55,501.94 L1310.55,501.88 L1313.55,501.82 L1316.55,501.75 L1319.56,501.69 L1322.56,501.63 L1325.56,501.56 L1328.56,501.50 L1331.56,501.44 L1334.56,501.37 L1337.56,501.30 L1340.56,501.24 L1343.56,501.17 L1346.57,501.10 L1349.57,501.03 L1352.57,500.97 L1355.57,500.90 L1358.57,500.83 L1361.57,500.75 L1364.57,500.68 L1367.57,500.61 L1370.57,500.54 L1373.58,500.47 L1376.58,500.39 L1379.58,500.32 L1382.58,500.24 L1385.58,500.17 L1388.58,500.09 L1391.58,500.02 L1394.58,499.94 L1397.58,499.86 L1400.58,499.78 L1403.59,499.70 L1406.59,499.62 L1409.59,499.54 L1412.59,499.46 L1415.59,499.38 L1418.59,499.30 L1421.59,499.22 L1424.59,499.13 L1427.59,499.05 L1430.59,498.97 L1433.60,498.88 L1436.60,498.79 L1439.60,498.71 L1442.60,498.62 L1445.60,498.53 L1448.60,498.44 L1451.60,498.36 L1454.60,498.27 L1457.60,498.18 L1460.60,498.08 L1463.60,497.99 L1466.61,497.90 L1469.61,497.81 L1472.61,497.71 L1475.61,497.62 L1478.61,497.53 L1481.61,497.43 L1484.61,497.33 L1487.61,497.24 L1490.61,497.14 L1493.61,497.04 L1496.61,496.94 L1499.61,496.84 L1502.62,496.74 L1505.62,496.64 L1508.62,496.54 L1511.62,496.44 L1514.62,496.33 L1517.62,496.23 L1520.62,496.13 L1523.62,496.02 L1526.62,495.91 L1529.62,495.81 L1532.62,495.70 L1535.62,495.59 L1538.62,495.48 L1541.63,495.37 L1544.63,495.26 L1547.63,495.15 L1550.63,495.04 L1553.63,494.93 L1556.63,494.82 L1559.63,494.70 L1562.63,494.59 L1565.63,494.47 L1568.63,494.36 L1571.63,494.24 L1574.63,494.12 L1577.63,494.01 L1580.63,493.89 L1583.63,493.77 L1586.64,493.65 L1589.64,493.53 L1592.64,493.41 L1595.64,493.28 L1598.64,493.16 L1601.64,493.04 L1604.64,492.91 L1607.64,492.79 L1610.64,492.66 L1613.64,492.53 L1616.64,492.40 L1619.64,492.28 L1622.64,492.15 L1625.64,492.01 L1628.64,491.88 L1631.64,491.75 L1634.64,491.62 L1637.64,491.48 L1640.64,491.35 L1643.64,491.21 L1646.64,491.07 L1649.64,490.93 L1652.64,490.79 L1655.64,490.65 L1658.64,490.51 L1661.64,490.36 L1664.64,490.22 L1667.64,490.07 L1670.64,489.92 L1673.64,489.77 L1676.64,489.62 L1679.64,489.47 L1682.64,489.31 L1685.64,489.16 L1688.64,489.00 L1691.64,488.84 L1694.64,488.68 L1697.63,488.52 L1700.63,488.36 L1703.63,488.19 L1706.63,488.03 L1709.63,487.86 L1712.62,487.69 L1715.62,487.52 L1718.62,487.34 L1721.62,487.17 L1724.61,486.99 L1727.61,486.81 L1730.61,486.63 L1733.61,486.45 L1736.60,486.26 L1739.60,486.07 L1742.60,485.89 L1745.59,485.70 L1748.59,485.50 L1751.58,485.31 L1754.58,485.11 L1757.57,484.91 L1760.57,484.71 L1763.56,484.51 L1766.56,484.30 L1769.55,484.09 L1772.55,483.88 L1775.54,483.67 L1778.54,483.46 L1781.53,483.24 L1784.52,483.02 L1787.52,482.80 L1790.51,482.57 L1793.50,482.35 L1796.50,482.12 L1799.49,481.89 L1802.48,481.65 L1805.47,481.42 L1808.46,481.18 L1811.45,480.94 L1814.45,480.69 L1817.44,480.44 L1820.43,480.19 L1823.42,479.94 L1826.41,479.69 L1829.40,479.43 L1832.39,479.17 L1835.38,478.90 L1838.36,478.64 L1841.35,478.37 L1844.34,478.10 L1847.33,477.82 L1850.32,477.54 L1853.30,477.26 L1856.29,476.98 L1859.28,476.69 L1862.27,476.40 L1865.25,476.11 L1868.24,475.81 L1871.22,475.51 L1874.21,475.21 L1877.19,474.90 L1880.18,474.59 L1883.16,474.28 L1886.14,473.97 L1889.13,473.65 L1892.11,473.33 L1895.09,473.00 L1898.08,472.67 L1901.06,472.34 L1904.04,472.00 L1907.02,471.66 L1910.00,471.32 L1912.98,470.98 L1915.96,470.63 L1918.94,470.27 L1921.92,469.92 L1924.90,469.56 L1927.88,469.19 L1930.86,468.83 L1933.84,468.46 L1936.81,468.09 L1939.79,467.71 L1942.77,467.33 L1945.74,466.94 L1948.72,466.56 L1951.69,466.17 L1954.67,465.77 L1957.64,465.38 L1960.62,464.98 L1963.59,464.57 L1966.56,464.16 L1969.54,463.75 L1972.51,463.34 L1975.48,462.92 L1978.45,462.50 L1981.42,462.08 L1984.39,461.65 L1987.36,461.22 L1990.33,460.78 L1993.30,460.34 L1996.27,459.90 L1999.23,459.46 L2002.20,459.01 L2005.17,458.55 L2008.14,458.10 L2011.10,457.64 L2014.07,457.18 L2017.03,456.71 L2020.00,456.25 L2022.96,455.78 L2025.92,455.30 L2028.89,454.83 L2031.85,454.35 L2034.81,453.86 L2037.77,453.38 L2040.74,452.89 L2043.70,452.40 L2046.66,451.91 L2049.62,451.42 L2052.58,450.92 L2055.54,450.42 L2058.50,449.92 L2061.46,449.42 L2064.42,448.91 L2067.37,448.40 L2070.33,447.90 L2073.29,447.38 L2076.25,446.87 L2079.21,446.36 L2082.16,445.84 L2085.12,445.33 L2088.08,444.81 L2091.04,444.29 L2093.99,443.76 L2096.95,443.24 L2099.90,442.72 L2102.86,442.19 L2105.82,441.67 L2108.77,441.14 L2111.73,440.61 L2114.68,440.08 L2117.64,439.55 L2120.59,439.02 L2123.55,438.49 L2126.50,437.96 L2129.46,437.43 L2132.41,436.89 L2135.37,436.36 L2138.32,435.83 L2141.28,435.29 L2144.23,434.76 L2147.19,434.23 L2150.14,433.69 L2153.10,433.16 L2156.05,432.63 L2159.01,432.09 L2161.96,431.56 L2164.92,431.03 L2167.87,430.49 L2170.83,429.96 L2173.78,429.43 L2176.74,428.90 L2179.69,428.37 L2182.65,427.84 L2185.60,427.31 L2188.56,426.78 L2191.51,426.25 L2194.47,425.73 L2197.42,425.20 L2200.38,424.68 L2203.34,424.15 L2206.29,423.63 L2209.25,423.11 L2212.21,422.59 L2215.16,422.08 L2218.12,421.56 L2221.08,421.05 L2224.04,420.53 L2226.99,420.02 L2229.95,419.51 L2232.91,419.01 L2235.87,418.50 L2238.83,418.00 L2241.79,417.50 L2244.75,417.00 L2247.71,416.50 L2250.67,416.01 L2253.63,415.51 L2256.59,415.02 L2259.55,414.54 L2262.51,414.05 L2265.47,413.57 L2268.44,413.09 L2271.40,412.61 L2274.36,412.14 L2277.33,411.67 L2280.29,411.20 L2283.25,410.74 L2286.22,410.27 L2289.18,409.81 L2292.15,409.36 L2295.12,408.91 L2298.08,408.46 L2301.05,408.01 L2304.02,407.57 L2306.99,407.13 L2309.96,406.70 L2312.92,406.27 L2315.89,405.84 L2318.86,405.42 L2321.80,404.70 L2329.57,402.80" stroke="#00B43E"/>
<path d="M413.00,505.40 L415.99,505.27 L419.00,505.28 L422.00,505.29 L425.00,505.30 L428.00,505.30 L431.01,505.31 L434.01,505.32 L437.01,505.33 L440.01,505.33 L443.01,505.34 L446.02,505.35 L449.02,505.36 L452.02,505.36 L455.02,505.37 L458.03,505.38 L461.03,505.39 L464.03,505.40 L467.03,505.40 L470.04,505.41 L473.04,505.42 L476.04,505.43 L479.04,505.44 L482.05,505.45 L485.05,505.45 L488.05,505.46 L491.05,505.47 L494.06,505.48 L497.06,505.49 L500.06,505.50 L503.06,505.51 L506.07,505.51 L509.07,505.52 L512.07,505.53 L515.07,505.54 L518.07,505.55 L521.08,505.56 L524.08,505.57 L527.08,505.58 L530.08,505.58 L533.09,505.59 L536.09,505.60 L539.09,505.61 L542.09,505.62 L545.10,505.63 L548.10,505.64 L551.10,505.65 L554.10,505.66 L557.11,505.66 L560.11,505.67 L563.11,505.68 L566.11,505.69 L569.11,505.70 L572.12,505.71 L575.12,505.72 L578.12,505.73 L581.12,505.73 L584.13,505.74 L587.13,505.75 L590.13,505.76 L593.13,505.77 L596.13,505.78 L599.14,505.79 L602.14,505.79 L605.14,505.80 L608.14,505.81 L611.15,505.82 L614.15,505.83 L617.15,505.83 L620.15,505.84 L623.16,505.85 L626.16,505.86 L629.16,505.87 L632.16,505.87 L635.16,505.88 L638.17,505.89 L641.17,505.90 L644.17,505.91 L647.17,505.91 L650.18,505.92 L653.18,505.93 L656.18,505.93 L659.18,505.94 L662.18,505.95 L665.19,505.96 L668.19,505.96 L671.19,505.97 L674.19,505.98 L677.19,505.98 L680.20,505.99 L683.20,506.00 L686.20,506.00 L689.20,506.01 L692.21,506.02 L695.21,506.02 L698.21,506.03 L701.21,506.03 L704.21,506.04 L707.22,506.04 L710.22,506.05 L713.22,506.06 L716.22,506.06 L719.22,506.07 L722.23,506.07 L725.23,506.08 L728.23,506.08 L731.23,506.08 L734.24,506.09 L737.24,506.09 L740.24,506.10 L743.24,506.10 L746.24,506.11 L749.25,506.11 L752.25,506.11 L755.25,506.12 L758.25,506.12 L761.25,506.12 L764.26,506.13 L767.26,506.13 L770.26,506.13 L773.26,506.13 L776.26,506.14 L779.27,506.14 L782.27,506.14 L785.27,506.14 L788.27,506.14 L791.27,506.14 L794.28,506.15 L797.28,506.15 L800.28,506.15 L803.28,506.15 L806.28,506.15 L809.29,506.15 L812.29,506.15 L815.29,506.15 L818.29,506.15 L821.29,506.15 L824.30,506.15 L827.30,506.15 L830.30,506.15 L833.30,506.15 L836.30,506.14 L839.31,506.14 L842.31,506.14 L845.31,506.14 L848.31,506.14 L851.31,506.13 L854.32,506.13 L857.32,506.13 L860.32,506.12 L863.32,506.12 L866.32,506.12 L869.32,506.11 L872.33,506.11 L875.33,506.11 L878.33,506.10 L881.33,506.10 L884.33,506.09 L887.34,506.09 L890.34,506.08 L893.34,506.07 L896.34,506.07 L899.34,506.06 L902.35,506.06 L905.35,506.05 L908.35,506.04 L911.35,506.03 L914.35,506.03 L917.35,506.02 L920.36,506.01 L923.36,506.00 L926.36,505.99 L929.36,505.98 L932.36,505.98 L935.37,505.97 L938.37,505.96 L941.37,505.95 L944.37,505.94 L947.37,505.93 L950.37,505.91 L953.38,505.90 L956.38,505.89 L959.38,505.88 L962.38,505.87 L965.38,505.86 L968.38,505.84 L971.39,505.83 L974.39,505.82 L977.39,505.80 L980.39,505.79 L983.39,505.77 L986.40,505.76 L989.40,505.74 L992.40,505.73 L995.40,505.71 L998.40,505.70 L1001.40,505.68 L1004.41,505.67 L1007.41,505.65 L1010.41,505.63 L1013.41,505.61 L1016.41,505.60 L1019.41,505.58 L1022.42,505.56 L1025.42,505.54 L1028.42,505.52 L1031.42,505.50 L1034.42,505.48 L1037.42,505.46 L1040.43,505.44 L1043.43,505.42 L1046.43,505.40 L1049.43,505.38 L1052.43,505.36 L1055.43,505.33 L1058.44,505.31 L1061.44,505.29 L1064.44,505.26 L1067.44,505.24 L1070.44,505.22 L1073.44,505.19 L1076.44,505.17 L1079.45,505.14 L1082.45,505.12 L1085.45,505.09 L1088.45,505.06 L1091.45,505.04 L1094.45,505.01 L1097.46,504.98 L1100.46,504.95 L1103.46,504.92 L1106.46,504.90 L1109.46,504.87 L1112.46,504.84 L1115.46,504.81 L1118.47,504.78 L1121.47,504.74 L1124.47,504.71 L1127.47,504.68 L1130.47,504.65 L1133.47,504.62 L1136.48,504.58 L1139.48,504.55 L1142.48,504.52 L1145.48,504.48 L1148.48,504.45 L1151.48,504.41 L1154.48,504.38 L1157.49,504.34 L1160.49,504.30 L1163.49,504.27 L1166.49,504.23 L1169.49,504.19 L1172.49,504.15 L1175.49,504.12 L1178.50,504.08 L1181.50,504.04 L1184.50,504.00 L1187.50,503.96 L1190.50,503.92 L1193.50,503.87 L1196.50,503.83 L1199.51,503.79 L1202.51,503.75 L1205.51,503.70 L1208.51,503.66 L1211.51,503.62 L1214.51,503.57 L1217.51,503.53 L1220.51,503.48 L1223.52,503.43 L1226.52,503.39 L1229.52,503.34 L1232.52,503.29 L1235.52,503.25 L1238.52,503.20 L1241.52,503.15 L1244.53,503.10 L1247.53,503.05 L1250.53,503.00 L1253.53,502.95 L1256.53,502.90 L1259.53,502.84 L1262.53,502.79 L1265.53,502.74 L1268.54,502.68 L1271.54,502.63 L1274.54,502.57 L1277.54,502.52 L1280.54,502.46 L1283.54,502.41 L1286.54,502.35 L1289.54,502.29 L1292.55,502.24 L1295.55,502.18 L1298.55,502.12 L1301.55,502.06 L1304.55,502.00 L1307.55,501.94 L1310.55,501.88 L1313.55,501.82 L1316.55,501.75 L1319.56,501.69 L1322.56,501.63 L1325.56,501.56 L1328.56,501.50 L1331.56,501.44 L1334.56,501.37 L1337.56,501.30 L1340.56,501.24 L1343.56,501.17 L1346.57,501.10 L1349.57,501.03 L1352.57,500.97 L1355.57,500.90 L1358.57,500.83 L1361.57,500.75 L1364.57,500.68 L1367.57,500.61 L1370.57,500.54 L1373.58,500.47 L1376.58,500.39 L1379.58,500.32 L1382.58,500.24 L1385.58,500.17 L1388.58,500.09 L1391.58,500.02 L1394.58,499.94 L1397.58,499.86 L1400.58,499.78 L1403.59,499.70 L1406.59,499.62 L1409.59,499.54 L1412.59,499.46 L1415.59,499.38 L1418.59,499.30 L1421.59,499.22 L1424.59,499.13 L1427.59,499.05 L1430.59,498.97 L1433.60,498.88 L1436.60,498.79 L1439.60,498.71 L1442.60,498.62 L1445.60,498.53 L1448.60,498.44 L1451.60,498.36 L1454.60,498.27 L1457.60,498.18 L1460.60,498.08 L1463.60,497.99 L1466.61,497.90 L1469.61,497.81 L1472.61,497.71 L1475.61,497.62 L1478.61,497.53 L1481.61,497.43 L1484.61,497.33 L1487.61,497.24 L1490.61,497.14 L1493.61,497.04 L1496.61,496.94 L1499.61,496.84 L1502.62,496.74 L1505.62,496.64 L1508.62,496.54 L1511.62,496.44 L1514.62,496.33 L1517.62,496.23 L1520.62,496.13 L1523.62,496.02 L1526.62,495.91 L1529.62,495.81 L1532.62,495.70 L1535.62,495.59 L1538.62,495.48 L1541.63,495.37 L1544.63,495.26 L1547.63,495.15 L1550.63,495.04 L1553.63,494.93 L1556.63,494.82 L1559.63,494.70 L1562.63,494.59 L1565.63,494.47 L1568.63,494.36 L1571.63,494.24 L1574.63,494.12 L1577.63,494.01 L1580.63,493.89 L1583.63,493.77 L1586.64,493.65 L1589.64,493.53 L1592.64,493.41 L1595.64,493.28 L1598.64,493.16 L1601.64,493.04 L1604.64,492.91 L1607.64,492.79 L1610.64,492.66 L1613.64,492.53 L1616.64,492.40 L1619.64,492.28 L1622.64,492.15 L1625.64,492.01 L1628.64,491.88 L1631.64,491.75 L1634.64,491.62 L1637.64,491.48 L1640.64,491.35 L1643.64,491.21 L1646.64,491.07 L1649.64,490.93 L1652.64,490.79 L1655.64,490.65 L1658.64,490.51 L1661.64,490.36 L1664.64,490.22 L1667.64,490.07 L1670.64,489.92 L1673.64,489.77 L1676.64,489.62 L1679.64,489.47 L1682.64,489.31 L1685.64,489.16 L1688.64,489.00 L1691.64,488.84 L1694.64,488.68 L1697.63,488.52 L1700.63,488.36 L1703.63,488.19 L1706.63,488.03 L1709.63,487.86 L1712.62,487.69 L1715.62,487.52 L1718.62,487.34 L1721.62,487.17 L1724.61,486.99 L1727.61,486.81 L1730.61,486.63 L1733.61,486.45 L1736.60,486.26 L1739.60,486.07 L1742.60,485.89 L1745.59,485.70 L1748.59,485.50 L1751.58,485.31 L1754.58,485.11 L1757.57,484.91 L1760.57,484.71 L1763.56,484.51 L1766.56,484.30 L1769.55,484.09 L1772.55,483.88 L1775.54,483.67 L1778.54,483.46 L1781.53,483.24 L1784.52,483.02 L1787.52,482.80 L1790.51,482.57 L1793.50,482.35 L1796.50,482.12 L1799.49,481.89 L1802.48,481.65 L1805.47,481.42 L1808.46,481.18 L1811.45,480.94 L1814.45,480.69 L1817.44,480.44 L1820.43,480.19 L1823.42,479.94 L1826.41,479.69 L1829.40,479.43 L1832.39,479.17 L1835.38,478.90 L1838.36,478.64 L1841.35,478.37 L1844.34,478.10 L1847.33,477.82 L1850.32,477.54 L1853.30,477.26 L1856.29,476.98 L1859.28,476.69 L1862.27,476.40 L1865.25,476.11 L1868.24,475.81 L1871.22,475.51 L1874.21,475.21 L1877.19,474.90 L1880.18,474.59 L1883.16,474.28 L1886.14,473.97 L1889.13,473.65 L1892.11,473.33 L1895.09,473.00 L1898.08,472.67 L1901.06,472.34 L1904.04,472.00 L1907.02,471.66 L1910.00,471.32 L1912.98,470.98 L1915.96,470.63 L1918.94,470.27 L1921.92,469.92 L1924.90,469.56 L1927.88,469.19 L1930.86,468.83 L1933.84,468.46 L1936.81,468.09 L1939.79,467.71 L1942.77,467.33 L1945.74,466.94 L1948.72,466.56 L1951.69,466.17 L1954.67,465.77 L1957.64,465.38 L1960.62,464.98 L1963.59,464.57 L1966.56,464.16 L1969.54,463.75 L1972.51,463.34 L1975.48,462.92 L1978.45,462.50 L1981.42,462.08 L1984.39,461.65 L1987.36,461.22 L1990.33,460.78 L1993.30,460.34 L1996.27,459.90 L1999.23,459.46 L2002.20,459.01 L2005.17,458.55 L2008.14,458.10 L2011.10,457.64 L2014.07,457.18 L2017.03,456.71 L2020.00,456.25 L2022.96,455.78 L2025.92,455.30 L2028.89,454.83 L2031.85,454.35 L2034.81,453.86 L2037.77,453.38 L2040.74,452.89 L2043.70,452.40 L2046.66,451.91 L2049.62,451.42 L2052.58,450.92 L2055.54,450.42 L2058.50,449.92 L2061.46,449.42 L2064.42,448.91 L2067.37,448.40 L2070.33,447.90 L2073.29,447.38 L2076.25,446.87 L2079.21,446.36 L2082.16,445.84 L2085.12,445.33 L2088.08,444.81 L2091.04,444.29 L2093.99,443.76 L2096.95,443.24 L2099.90,442.72 L2102.86,442.19 L2105.82,441.67 L2108.77,441.14 L2111.73,440.61 L2114.68,440.08 L2117.64,439.55 L2120.59,439.02 L2123.55,438.49 L2126.50,437.96 L2129.46,437.43 L2132.41,436.89 L2135.37,436.36 L2138.32,435.83 L2141.28,435.29 L2144.23,434.76 L2147.19,434.23 L2150.14,433.69 L2153.10,433.16 L2156.05,432.63 L2159.01,432.09 L2161.96,431.56 L2164.92,431.03 L2167.87,430.49 L2170.83,429.96 L2173.78,429.43 L2176.74,428.90 L2179.69,428.37 L2182.65,427.84 L2185.60,427.31 L2188.56,426.78 L2191.51,426.25 L2194.47,425.73 L2197.42,425.20 L2200.38,424.68 L2203.34,424.15 L2206.29,423.63 L2209.25,423.11 L2212.21,422.59 L2215.16,422.08 L2218.12,421.56 L2221.08,421.05 L2224.04,420.53 L2226.99,420.02 L2229.95,419.51 L2232.91,419.01 L2235.87,418.50 L2238.83,418.00 L2241.79,417.50 L2244.75,417.00 L2247.71,416.50 L2250.67,416.01 L2253.63,415.51 L2256.59,415.02 L2259.55,414.54 L2262.51,414.05 L2265.47,413.57 L2268.44,413.09 L2271.40,412.61 L2274.36,412.14 L2277.33,411.67 L2280.29,411.20 L2283.25,410.74 L2286.22,410.27 L2289.18,409.81 L2292.15,409.36 L2295.12,408.91 L2298.08,408.46 L2301.05,408.01 L2304.02,407.57 L2306.99,407.13 L2309.96,406.70 L2312.92,406.27 L2315.89,405.84 L2318.86,405.42 L2321.80,404.70 L2329.57,402.80" stroke="#00B43E" stroke-width="5"/>
<path d="M413.00,505.40 L416.00,505.03 L419.01,505.16 L422.01,505.28 L425.01,505.41 L428.01,505.54 L431.01,505.67 L434.01,505.80 L437.01,505.93 L440.01,506.06 L443.01,506.19 L446.01,506.32 L449.01,506.45 L452.01,506.59 L455.01,506.72 L458.01,506.86 L461.01,506.99 L464.01,507.13 L467.01,507.26 L470.01,507.40 L473.01,507.53 L476.01,507.67 L479.00,507.81 L482.00,507.94 L485.00,508.08 L488.00,508.22 L491.00,508.36 L493.99,508.49 L496.99,508.63 L499.99,508.77 L502.99,508.91 L505.98,509.05 L508.98,509.18 L511.98,509.32 L514.98,509.46 L517.97,509.60 L520.97,509.73 L523.97,509.87 L526.96,510.01 L529.96,510.14 L532.96,510.28 L535.95,510.41 L538.95,510.55 L541.95,510.68 L544.94,510.82 L547.94,510.95 L550.94,511.09 L553.93,511.22 L556.93,511.35 L559.93,511.48 L562.92,511.61 L565.92,511.74 L568.92,511.87 L571.91,512.00 L574.91,512.13 L577.91,512.25 L580.91,512.38 L583.90,512.50 L586.90,512.63 L589.90,512.75 L592.89,512.87 L595.89,512.99 L598.89,513.11 L601.88,513.23 L604.88,513.35 L607.88,513.47 L610.88,513.58 L613.87,513.70 L616.87,513.81 L619.87,513.92 L622.87,514.03 L625.87,514.14 L628.86,514.25 L631.86,514.35 L634.86,514.46 L637.86,514.56 L640.86,514.66 L643.86,514.76 L646.86,514.86 L649.85,514.96 L652.85,515.05 L655.85,515.15 L658.85,515.24 L661.85,515.33 L664.85,515.42 L667.85,515.51 L670.85,515.60 L673.85,515.68 L676.85,515.77 L679.85,515.85 L682.85,515.93 L685.85,516.01 L688.85,516.10 L691.85,516.17 L694.85,516.25 L697.85,516.33 L700.85,516.41 L703.85,516.48 L706.86,516.55 L709.86,516.63 L712.86,516.70 L715.86,516.77 L718.86,516.84 L721.86,516.91 L724.86,516.98 L727.86,517.04 L730.87,517.11 L733.87,517.17 L736.87,517.24 L739.87,517.30 L742.87,517.37 L745.87,517.43 L748.88,517.49 L751.88,517.55 L754.88,517.61 L757.88,517.67 L760.88,517.73 L763.89,517.79 L766.89,517.85 L769.89,517.90 L772.89,517.96 L775.90,518.02 L778.90,518.07 L781.90,518.13 L784.90,518.18 L787.90,518.24 L790.91,518.29 L793.91,518.34 L796.91,518.39 L799.91,518.45 L802.92,518.50 L805.92,518.55 L808.92,518.60 L811.93,518.65 L814.93,518.71 L817.93,518.76 L820.93,518.81 L823.94,518.86 L826.94,518.91 L829.94,518.96 L832.94,519.01 L835.95,519.06 L838.95,519.11 L841.95,519.16 L844.95,519.21 L847.96,519.26 L850.96,519.30 L853.96,519.35 L856.96,519.40 L859.97,519.45 L862.97,519.50 L865.97,519.55 L868.98,519.60 L871.98,519.65 L874.98,519.70 L877.98,519.75 L880.99,519.80 L883.99,519.86 L886.99,519.91 L889.99,519.96 L892.99,520.01 L896.00,520.06 L899.00,520.11 L902.00,520.17 L905.00,520.22 L908.01,520.27 L911.01,520.33 L914.01,520.38 L917.01,520.44 L920.01,520.49 L923.02,520.55 L926.02,520.61 L929.02,520.66 L932.02,520.72 L935.02,520.78 L938.02,520.84 L941.02,520.90 L944.03,520.96 L947.03,521.02 L950.03,521.08 L953.03,521.14 L956.03,521.20 L959.03,521.27 L962.03,521.33 L965.03,521.40 L968.03,521.46 L971.03,521.53 L974.04,521.60 L977.04,521.67 L980.04,521.74 L983.04,521.81 L986.04,521.88 L989.04,521.95 L992.04,522.02 L995.04,522.10 L998.04,522.17 L1001.04,522.25 L1004.04,522.33 L1007.03,522.41 L1010.03,522.49 L1013.03,522.57 L1016.03,522.65 L1019.03,522.73 L1022.03,522.82 L1025.03,522.90 L1028.03,522.99 L1031.03,523.07 L1034.03,523.16 L1037.02,523.25 L1040.02,523.34 L1043.02,523.43 L1046.02,523.52 L1049.02,523.61 L1052.02,523.71 L1055.01,523.80 L1058.01,523.89 L1061.01,523.99 L1064.01,524.09 L1067.00,524.18 L1070.00,524.28 L1073.00,524.38 L1076.00,524.48 L1079.00,524.58 L1081.99,524.68 L1084.99,524.78 L1087.99,524.88 L1090.99,524.98 L1093.98,525.08 L1096.98,525.19 L1099.98,525.29 L1102.97,525.40 L1105.97,525.50 L1108.97,525.61 L1111.97,525.71 L1114.96,525.82 L1117.96,525.92 L1120.96,526.03 L1123.96,526.14 L1126.95,526.25 L1129.95,526.36 L1132.95,526.47 L1135.94,526.58 L1138.94,526.69 L1141.94,526.80 L1144.93,526.91 L1147.93,527.02 L1150.93,527.13 L1153.93,527.24 L1156.92,527.35 L1159.92,527.46 L1162.92,527.58 L1165.91,527.69 L1168.91,527.80 L1171.91,527.91 L1174.91,528.03 L1177.90,528.14 L1180.90,528.25 L1183.90,528.37 L1186.90,528.48 L1189.89,528.60 L1192.89,528.71 L1195.89,528.82 L1198.89,528.94 L1201.88,529.05 L1204.88,529.17 L1207.88,529.28 L1210.88,529.39 L1213.87,529.51 L1216.87,529.62 L1219.87,529.74 L1222.87,529.85 L1225.87,529.96 L1228.86,530.08 L1231.86,530.19 L1234.86,530.30 L1237.86,530.42 L1240.86,530.53 L1243.86,530.64 L1246.85,530.76 L1249.85,530.87 L1252.85,530.98 L1255.85,531.09 L1258.85,531.20 L1261.85,531.32 L1264.85,531.43 L1267.85,531.54 L1270.85,531.65 L1273.84,531.76 L1276.84,531.87 L1279.84,531.98 L1282.84,532.09 L1285.84,532.20 L1288.84,532.31 L1291.84,532.41 L1294.84,532.52 L1297.84,532.63 L1300.84,532.73 L1303.84,532.84 L1306.85,532.95 L1309.85,533.05 L1312.85,533.16 L1315.85,533.26 L1318.85,533.36 L1321.85,533.47 L1324.85,533.57 L1327.85,533.67 L1330.86,533.77 L1333.86,533.87 L1336.86,533.97 L1339.86,534.07 L1342.86,534.17 L1345.87,534.27 L1348.87,534.36 L1351.87,534.46 L1354.88,534.55 L1357.88,534.65 L1360.88,534.74 L1363.89,534.84 L1366.89,534.93 L1369.89,535.02 L1372.90,535.11 L1375.90,535.20 L1378.91,535.29 L1381.91,535.38 L1384.92,535.46 L1387.92,535.55 L1390.93,535.63 L1393.93,535.72 L1396.94,535.80 L1399.94,535.88 L1402.95,535.96 L1405.96,536.05 L1408.96,536.13 L1411.97,536.21 L1414.97,536.29 L1417.98,536.37 L1420.99,536.45 L1423.99,536.53 L1427.00,536.61 L1430.01,536.69 L1433.01,536.77 L1436.02,536.86 L1439.03,536.94 L1442.03,537.02 L1445.04,537.11 L1448.05,537.20 L1451.05,537.29 L1454.06,537.38 L1457.06,537.47 L1460.07,537.56 L1463.07,537.66 L1466.08,537.76 L1469.09,537.86 L1472.09,537.96 L1475.09,538.06 L1478.10,538.17 L1481.10,538.28 L1484.11,538.40 L1487.11,538.51 L1490.11,538.63 L1493.11,538.75 L1496.12,538.88 L1499.12,539.01 L1502.12,539.14 L1505.12,539.28 L1508.12,539.42 L1511.12,539.57 L1514.12,539.72 L1517.12,539.87 L1520.12,540.03 L1523.12,540.20 L1526.11,540.36 L1529.11,540.54 L1532.11,540.72 L1535.10,540.90 L1538.10,541.09 L1541.09,541.28 L1544.08,541.48 L1547.08,541.69 L1550.07,541.90 L1553.06,542.11 L1556.05,542.34 L1559.04,542.57 L1562.03,542.80 L1565.02,543.05 L1568.00,543.30 L1570.99,543.55 L1573.98,543.81 L1576.96,544.08 L1579.95,544.36 L1582.93,544.64 L1585.91,544.94 L1588.89,545.24 L1591.87,545.54 L1594.85,545.86 L1597.83,546.18 L1600.81,546.51 L1603.78,546.85 L1606.76,547.20 L1609.73,547.55 L1612.70,547.92 L1615.68,548.29 L1618.65,548.68 L1621.62,549.07 L1624.59,549.47 L1627.55,549.88 L1630.52,550.30 L1633.48,550.73 L1636.45,551.16 L1639.41,551.61 L1642.37,552.07 L1645.33,552.54 L1648.29,553.02 L1651.25,553.51 L1654.20,554.01 L1657.16,554.52 L1660.11,555.04 L1663.06,555.57 L1666.01,556.12 L1668.96,556.67 L1671.91,557.24 L1674.86,557.81 L1677.80,558.40 L1680.74,559.00 L1683.68,559.61 L1686.63,560.24 L1689.56,560.87 L1692.50,561.52 L1695.43,562.18 L1698.37,562.86 L1701.30,563.55 L1704.22,564.25 L1707.15,564.97 L1710.07,565.70 L1712.98,566.44 L1715.89,567.21 L1718.80,567.99 L1721.70,568.78 L1724.60,569.59 L1727.49,570.42 L1730.37,571.26 L1733.25,572.13 L1736.12,573.01 L1738.99,573.91 L1741.85,574.83 L1744.70,575.77 L1747.54,576.73 L1750.38,577.70 L1753.21,578.70 L1756.02,579.72 L1758.83,580.76 L1761.63,581.83 L1764.42,582.91 L1767.21,584.02 L1769.98,585.15 L1772.74,586.30 L1775.49,587.48 L1778.22,588.68 L1780.95,589.90 L1783.67,591.15 L1786.37,592.43 L1789.06,593.73 L1791.74,595.06 L1794.40,596.41 L1797.05,597.79 L1799.69,599.20 L1802.32,600.63 L1804.93,602.09 L1807.52,603.58 L1810.11,605.09 L1812.68,606.63 L1815.24,608.19 L1817.78,609.77 L1820.32,611.37 L1822.84,613.00 L1825.35,614.65 L1827.85,616.32 L1830.33,618.01 L1832.81,619.71 L1835.27,621.44 L1837.73,623.18 L1840.17,624.94 L1842.61,626.72 L1845.03,628.51 L1847.44,630.32 L1849.85,632.14 L1852.24,633.97 L1854.63,635.81 L1857.01,637.67 L1859.38,639.54 L1861.74,641.42 L1864.09,643.31 L1866.43,645.20 L1868.77,647.11 L1871.10,649.02 L1873.42,650.95 L1875.74,652.87 L1878.04,654.81 L1880.34,656.76 L1882.64,658.71 L1884.92,660.67 L1887.19,662.64 L1889.46,664.62 L1891.72,666.60 L1893.97,668.60 L1896.22,670.60 L1898.45,672.61 L1900.68,674.63 L1902.90,676.65 L1905.11,678.69 L1907.31,680.73 L1909.51,682.78 L1911.69,684.84 L1913.87,686.90 L1916.04,688.98 L1918.20,691.06 L1920.35,693.15 L1922.49,695.25 L1924.62,697.36 L1926.75,699.48 L1928.86,701.60 L1930.97,703.73 L1933.06,705.88 L1935.15,708.03 L1937.23,710.18 L1939.30,712.35 L1941.36,714.53 L1943.41,716.71 L1945.45,718.90 L1947.49,721.10 L1949.51,723.31 L1951.52,725.53 L1953.53,727.75 L1955.52,729.99 L1957.51,732.23 L1959.48,734.48 L1961.45,736.74 L1963.40,739.01 L1965.35,741.29 L1967.29,743.57 L1969.23,745.86 L1971.15,748.15 L1973.06,750.46 L1974.97,752.77 L1976.87,755.08 L1978.77,757.41 L1980.65,759.74 L1982.53,762.07 L1984.40,764.42 L1986.26,766.76 L1988.12,769.12 L1989.97,771.48 L1991.82,773.84 L1993.66,776.21 L1995.49,778.58 L1997.32,780.96 L1999.14,783.34 L2000.96,785.72 L2002.78,788.11 L2004.60,790.50 L2006.41,792.89 L2008.22,795.28 L2010.02,797.68 L2011.83,800.08 L2013.64,802.47 L2015.44,804.87 L2017.25,807.27 L2019.05,809.66 L2020.86,812.06 L2022.67,814.46 L2024.48,816.85 L2026.29,819.24 L2028.10,821.63 L2029.92,824.02 L2031.74,826.40 L2033.57,828.78 L2035.40,831.16 L2037.24,833.53 L2039.08,835.90 L2040.92,838.26 L2042.78,840.62 L2044.64,842.98 L2046.50,845.32 L2048.38,847.66 L2050.26,850.00 L2052.15,852.33 L2054.05,854.65 L2055.95,856.97 L2057.86,859.28 L2059.77,861.59 L2061.69,863.90 L2063.61,866.20 L2065.53,868.50 L2067.46,870.80 L2069.39,873.09 L2071.32,875.39 L2073.26,877.68 L2075.19,879.97 L2077.13,882.26 L2079.06,884.56 L2081.00,886.85 L2082.93,889.14 L2084.87,891.44 L2086.80,893.73 L2088.73,896.03 L2090.66,898.32 L2092.60,900.62 L2094.52,902.92 L2096.45,905.22 L2098.38,907.52 L2100.31,909.82 L2102.23,912.12 L2104.15,914.43 L2106.08,916.73 L2108.00,919.04 L2109.92,921.35 L2111.83,923.66 L2113.75,925.97 L2115.66,928.28 L2117.57,930.59 L2119.48,932.91 L2121.39,935.23 L2123.30,937.55 L2125.20,939.87 L2127.10,942.19 L2129.00,944.52 L2130.90,946.84 L2132.79,949.17 L2134.68,951.50 L2136.57,953.84 L2138.46,956.17 L2140.35,958.51 L2142.23,960.85 L2144.11,963.19 L2145.98,965.54 L2147.85,967.89 L2149.72,970.24 L2151.59,972.59 L2153.46,974.94 L2155.32,977.30 L2157.17,979.66 L2159.03,982.02 L2160.88,984.38 L2162.73,986.75 L2164.57,989.12 L2166.41,991.49 L2168.25,993.87 L2170.09,996.24 L2171.92,998.62 L2173.75,1001.01 L2175.57,1003.39 L2177.39,1005.78 L2179.21,1008.17 L2181.02,1010.56 L2182.83,1012.96 L2184.63,1015.36 L2186.43,1017.76 L2188.23,1020.17 L2190.02,1022.57 L2191.81,1024.98 L2193.60,1027.40 L2195.38,1029.81 L2197.16,1032.23 L2198.93,1034.66 L2200.70,1037.08 L2202.46,1039.51 L2204.22,1041.94 L2205.97,1044.37 L2207.72,1046.81 L2209.47,1049.25 L2211.21,1051.70 L2212.95,1054.14 L2214.68,1056.59 L2216.41,1059.05 L2218.13,1061.50 L2219.85,1063.96 L2221.56,1066.42 L2223.27,1068.89 L2224.97,1071.36 L2226.67,1073.83 L2228.36,1076.31 L2230.05,1078.79 L2231.73,1081.27 L2233.41,1083.76 L2235.08,1086.25 L2236.75,1088.74 L2238.41,1091.24 L2240.07,1093.74 L2241.72,1096.24 L2243.36,1098.75 L2245.00,1101.26 L2246.63,1103.77 L2248.26,1106.29 L2249.89,1108.81 L2251.50,1111.33 L2253.11,1113.86 L2254.72,1116.40 L2256.32,1118.93 L2257.91,1121.47 L2259.50,1124.01 L2261.08,1126.56 L2262.66,1129.11 L2264.22,1131.67 L2265.79,1134.23 L2267.34,1136.79 L2268.89,1139.36 L2270.44,1141.93 L2271.98,1144.50 L2273.51,1147.08 L2275.03,1149.66 L2276.55,1152.25 L2278.06,1154.84 L2279.57,1157.43 L2281.07,1160.03 L2282.56,1162.63 L2284.04,1165.24 L2285.52,1167.85 L2286.99,1170.46 L2288.46,1173.08 L2289.91,1175.70 L2291.37,1178.33 L2292.81,1180.96 L2294.25,1183.60 L2295.67,1186.24 L2297.10,1188.88 L2298.51,1191.53 L2299.92,1194.18 L2301.32,1196.84 L2302.71,1199.50 L2304.10,1202.17 L2305.47,1204.84 L2306.85,1207.51 L2308.21,1210.19 L2309.56,1212.88 L2310.91,1215.56 L2312.25,1218.26 L2313.58,1220.95 L2314.91,1223.65 L2316.22,1226.36 L2317.53,1229.07 L2318.83,1231.79 L2320.12,1234.51 L2321.80,1237.00 L2326.27,1243.64" stroke="#FFC000"/>
<path d="M413.00,505.40 L416.00,505.03 L419.01,505.16 L422.01,505.28 L425.01,505.41 L428.01,505.54 L431.01,505.67 L434.01,505.80 L437.01,505.93 L440.01,506.06 L443.01,506.19 L446.01,506.32 L449.01,506.45 L452.01,506.59 L455.01,506.72 L458.01,506.86 L461.01,506.99 L464.01,507.13 L467.01,507.26 L470.01,507.40 L473.01,507.53 L476.01,507.67 L479.00,507.81 L482.00,507.94 L485.00,508.08 L488.00,508.22 L491.00,508.36 L493.99,508.49 L496.99,508.63 L499.99,508.77 L502.99,508.91 L505.98,509.05 L508.98,509.18 L511.98,509.32 L514.98,509.46 L517.97,509.60 L520.97,509.73 L523.97,509.87 L526.96,510.01 L529.96,510.14 L532.96,510.28 L535.95,510.41 L538.95,510.55 L541.95,510.68 L544.94,510.82 L547.94,510.95 L550.94,511.09 L553.93,511.22 L556.93,511.35 L559.93,511.48 L562.92,511.61 L565.92,511.74 L568.92,511.87 L571.91,512.00 L574.91,512.13 L577.91,512.25 L580.91,512.38 L583.90,512.50 L586.90,512.63 L589.90,512.75 L592.89,512.87 L595.89,512.99 L598.89,513.11 L601.88,513.23 L604.88,513.35 L607.88,513.47 L610.88,513.58 L613.87,513.70 L616.87,513.81 L619.87,513.92 L622.87,514.03 L625.87,514.14 L628.86,514.25 L631.86,514.35 L634.86,514.46 L637.86,514.56 L640.86,514.66 L643.86,514.76 L646.86,514.86 L649.85,514.96 L652.85,515.05 L655.85,515.15 L658.85,515.24 L661.85,515.33 L664.85,515.42 L667.85,515.51 L670.85,515.60 L673.85,515.68 L676.85,515.77 L679.85,515.85 L682.85,515.93 L685.85,516.01 L688.85,516.10 L691.85,516.17 L694.85,516.25 L697.85,516.33 L700.85,516.41 L703.85,516.48 L706.86,516.55 L709.86,516.63 L712.86,516.70 L715.86,516.77 L718.86,516.84 L721.86,516.91 L724.86,516.98 L727.86,517.04 L730.87,517.11 L733.87,517.17 L736.87,517.24 L739.87,517.30 L742.87,517.37 L745.87,517.43 L748.88,517.49 L751.88,517.55 L754.88,517.61 L757.88,517.67 L760.88,517.73 L763.89,517.79 L766.89,517.85 L769.89,517.90 L772.89,517.96 L775.90,518.02 L778.90,518.07 L781.90,518.13 L784.90,518.18 L787.90,518.24 L790.91,518.29 L793.91,518.34 L796.91,518.39 L799.91,518.45 L802.92,518.50 L805.92,518.55 L808.92,518.60 L811.93,518.65 L814.93,518.71 L817.93,518.76 L820.93,518.81 L823.94,518.86 L826.94,518.91 L829.94,518.96 L832.94,519.01 L835.95,519.06 L838.95,519.11 L841.95,519.16 L844.95,519.21 L847.96,519.26 L850.96,519.30 L853.96,519.35 L856.96,519.40 L859.97,519.45 L862.97,519.50 L865.97,519.55 L868.98,519.60 L871.98,519.65 L874.98,519.70 L877.98,519.75 L880.99,519.80 L883.99,519.86 L886.99,519.91 L889.99,519.96 L892.99,520.01 L896.00,520.06 L899.00,520.11 L902.00,520.17 L905.00,520.22 L908.01,520.27 L911.01,520.33 L914.01,520.38 L917.01,520.44 L920.01,520.49 L923.02,520.55 L926.02,520.61 L929.02,520.66 L932.02,520.72 L935.02,520.78 L938.02,520.84 L941.02,520.90 L944.03,520.96 L947.03,521.02 L950.03,521.08 L953.03,521.14 L956.03,521.20 L959.03,521.27 L962.03,521.33 L965.03,521.40 L968.03,521.46 L971.03,521.53 L974.04,521.60 L977.04,521.67 L980.04,521.74 L983.04,521.81 L986.04,521.88 L989.04,521.95 L992.04,522.02 L995.04,522.10 L998.04,522.17 L1001.04,522.25 L1004.04,522.33 L1007.03,522.41 L1010.03,522.49 L1013.03,522.57 L1016.03,522.65 L1019.03,522.73 L1022.03,522.82 L1025.03,522.90 L1028.03,522.99 L1031.03,523.07 L1034.03,523.16 L1037.02,523.25 L1040.02,523.34 L1043.02,523.43 L1046.02,523.52 L1049.02,523.61 L1052.02,523.71 L1055.01,523.80 L1058.01,523.89 L1061.01,523.99 L1064.01,524.09 L1067.00,524.18 L1070.00,524.28 L1073.00,524.38 L1076.00,524.48 L1079.00,524.58 L1081.99,524.68 L1084.99,524.78 L1087.99,524.88 L1090.99,524.98 L1093.98,525.08 L1096.98,525.19 L1099.98,525.29 L1102.97,525.40 L1105.97,525.50 L1108.97,525.61 L1111.97,525.71 L1114.96,525.82 L1117.96,525.92 L1120.96,526.03 L1123.96,526.14 L1126.95,526.25 L1129.95,526.36 L1132.95,526.47 L1135.94,526.58 L1138.94,526.69 L1141.94,526.80 L1144.93,526.91 L1147.93,527.02 L1150.93,527.13 L1153.93,527.24 L1156.92,527.35 L1159.92,527.46 L1162.92,527.58 L1165.91,527.69 L1168.91,527.80 L1171.91,527.91 L1174.91,528.03 L1177.90,528.14 L1180.90,528.25 L1183.90,528.37 L1186.90,528.48 L1189.89,528.60 L1192.89,528.71 L1195.89,528.82 L1198.89,528.94 L1201.88,529.05 L1204.88,529.17 L1207.88,529.28 L1210.88,529.39 L1213.87,529.51 L1216.87,529.62 L1219.87,529.74 L1222.87,529.85 L1225.87,529.96 L1228.86,530.08 L1231.86,530.19 L1234.86,530.30 L1237.86,530.42 L1240.86,530.53 L1243.86,530.64 L1246.85,530.76 L1249.85,530.87 L1252.85,530.98 L1255.85,531.09 L1258.85,531.20 L1261.85,531.32 L1264.85,531.43 L1267.85,531.54 L1270.85,531.65 L1273.84,531.76 L1276.84,531.87 L1279.84,531.98 L1282.84,532.09 L1285.84,532.20 L1288.84,532.31 L1291.84,532.41 L1294.84,532.52 L1297.84,532.63 L1300.84,532.73 L1303.84,532.84 L1306.85,532.95 L1309.85,533.05 L1312.85,533.16 L1315.85,533.26 L1318.85,533.36 L1321.85,533.47 L1324.85,533.57 L1327.85,533.67 L1330.86,533.77 L1333.86,533.87 L1336.86,533.97 L1339.86,534.07 L1342.86,534.17 L1345.87,534.27 L1348.87,534.36 L1351.87,534.46 L1354.88,534.55 L1357.88,534.65 L1360.88,534.74 L1363.89,534.84 L1366.89,534.93 L1369.89,535.02 L1372.90,535.11 L1375.90,535.20 L1378.91,535.29 L1381.91,535.38 L1384.92,535.46 L1387.92,535.55 L1390.93,535.63 L1393.93,535.72 L1396.94,535.80 L1399.94,535.88 L1402.95,535.96 L1405.96,536.05 L1408.96,536.13 L1411.97,536.21 L1414.97,536.29 L1417.98,536.37 L1420.99,536.45 L1423.99,536.53 L1427.00,536.61 L1430.01,536.69 L1433.01,536.77 L1436.02,536.86 L1439.03,536.94 L1442.03,537.02 L1445.04,537.11 L1448.05,537.20 L1451.05,537.29 L1454.06,537.38 L1457.06,537.47 L1460.07,537.56 L1463.07,537.66 L1466.08,537.76 L1469.09,537.86 L1472.09,537.96 L1475.09,538.06 L1478.10,538.17 L1481.10,538.28 L1484.11,538.40 L1487.11,538.51 L1490.11,538.63 L1493.11,538.75 L1496.12,538.88 L1499.12,539.01 L1502.12,539.14 L1505.12,539.28 L1508.12,539.42 L1511.12,539.57 L1514.12,539.72 L1517.12,539.87 L1520.12,540.03 L1523.12,540.20 L1526.11,540.36 L1529.11,540.54 L1532.11,540.72 L1535.10,540.90 L1538.10,541.09 L1541.09,541.28 L1544.08,541.48 L1547.08,541.69 L1550.07,541.90 L1553.06,542.11 L1556.05,542.34 L1559.04,542.57 L1562.03,542.80 L1565.02,543.05 L1568.00,543.30 L1570.99,543.55 L1573.98,543.81 L1576.96,544.08 L1579.95,544.36 L1582.93,544.64 L1585.91,544.94 L1588.89,545.24 L1591.87,545.54 L1594.85,545.86 L1597.83,546.18 L1600.81,546.51 L1603.78,546.85 L1606.76,547.20 L1609.73,547.55 L1612.70,547.92 L1615.68,548.29 L1618.65,548.68 L1621.62,549.07 L1624.59,549.47 L1627.55,549.88 L1630.52,550.30 L1633.48,550.73 L1636.45,551.16 L1639.41,551.61 L1642.37,552.07 L1645.33,552.54 L1648.29,553.02 L1651.25,553.51 L1654.20,554.01 L1657.16,554.52 L1660.11,555.04 L1663.06,555.57 L1666.01,556.12 L1668.96,556.67 L1671.91,557.24 L1674.86,557.81 L1677.80,558.40 L1680.74,559.00 L1683.68,559.61 L1686.63,560.24 L1689.56,560.87 L1692.50,561.52 L1695.43,562.18 L1698.37,562.86 L1701.30,563.55 L1704.22,564.25 L1707.15,564.97 L1710.07,565.70 L1712.98,566.44 L1715.89,567.21 L1718.80,567.99 L1721.70,568.78 L1724.60,569.59 L1727.49,570.42 L1730.37,571.26 L1733.25,572.13 L1736.12,573.01 L1738.99,573.91 L1741.85,574.83 L1744.70,575.77 L1747.54,576.73 L1750.38,577.70 L1753.21,578.70 L1756.02,579.72 L1758.83,580.76 L1761.63,581.83 L1764.42,582.91 L1767.21,584.02 L1769.98,585.15 L1772.74,586.30 L1775.49,587.48 L1778.22,588.68 L1780.95,589.90 L1783.67,591.15 L1786.37,592.43 L1789.06,593.73 L1791.74,595.06 L1794.40,596.41 L1797.05,597.79 L1799.69,599.20 L1802.32,600.63 L1804.93,602.09 L1807.52,603.58 L1810.11,605.09 L1812.68,606.63 L1815.24,608.19 L1817.78,609.77 L1820.32,611.37 L1822.84,613.00 L1825.35,614.65 L1827.85,616.32 L1830.33,618.01 L1832.81,619.71 L1835.27,621.44 L1837.73,623.18 L1840.17,624.94 L1842.61,626.72 L1845.03,628.51 L1847.44,630.32 L1849.85,632.14 L1852.24,633.97 L1854.63,635.81 L1857.01,637.67 L1859.38,639.54 L1861.74,641.42 L1864.09,643.31 L1866.43,645.20 L1868.77,647.11 L1871.10,649.02 L1873.42,650.95 L1875.74,652.87 L1878.04,654.81 L1880.34,656.76 L1882.64,658.71 L1884.92,660.67 L1887.19,662.64 L1889.46,664.62 L1891.72,666.60 L1893.97,668.60 L1896.22,670.60 L1898.45,672.61 L1900.68,674.63 L1902.90,676.65 L1905.11,678.69 L1907.31,680.73 L1909.51,682.78 L1911.69,684.84 L1913.87,686.90 L1916.04,688.98 L1918.20,691.06 L1920.35,693.15 L1922.49,695.25 L1924.62,697.36 L1926.75,699.48 L1928.86,701.60 L1930.97,703.73 L1933.06,705.88 L1935.15,708.03 L1937.23,710.18 L1939.30,712.35 L1941.36,714.53 L1943.41,716.71 L1945.45,718.90 L1947.49,721.10 L1949.51,723.31 L1951.52,725.53 L1953.53,727.75 L1955.52,729.99 L1957.51,732.23 L1959.48,734.48 L1961.45,736.74 L1963.40,739.01 L1965.35,741.29 L1967.29,743.57 L1969.23,745.86 L1971.15,748.15 L1973.06,750.46 L1974.97,752.77 L1976.87,755.08 L1978.77,757.41 L1980.65,759.74 L1982.53,762.07 L1984.40,764.42 L1986.26,766.76 L1988.12,769.12 L1989.97,771.48 L1991.82,773.84 L1993.66,776.21 L1995.49,778.58 L1997.32,780.96 L1999.14,783.34 L2000.96,785.72 L2002.78,788.11 L2004.60,790.50 L2006.41,792.89 L2008.22,795.28 L2010.02,797.68 L2011.83,800.08 L2013.64,802.47 L2015.44,804.87 L2017.25,807.27 L2019.05,809.66 L2020.86,812.06 L2022.67,814.46 L2024.48,816.85 L2026.29,819.24 L2028.10,821.63 L2029.92,824.02 L2031.74,826.40 L2033.57,828.78 L2035.40,831.16 L2037.24,833.53 L2039.08,835.90 L2040.92,838.26 L2042.78,840.62 L2044.64,842.98 L2046.50,845.32 L2048.38,847.66 L2050.26,850.00 L2052.15,852.33 L2054.05,854.65 L2055.95,856.97 L2057.86,859.28 L2059.77,861.59 L2061.69,863.90 L2063.61,866.20 L2065.53,868.50 L2067.46,870.80 L2069.39,873.09 L2071.32,875.39 L2073.26,877.68 L2075.19,879.97 L2077.13,882.26 L2079.06,884.56 L2081.00,886.85 L2082.93,889.14 L2084.87,891.44 L2086.80,893.73 L2088.73,896.03 L2090.66,898.32 L2092.60,900.62 L2094.52,902.92 L2096.45,905.22 L2098.38,907.52 L2100.31,909.82 L2102.23,912.12 L2104.15,914.43 L2106.08,916.73 L2108.00,919.04 L2109.92,921.35 L2111.83,923.66 L2113.75,925.97 L2115.66,928.28 L2117.57,930.59 L2119.48,932.91 L2121.39,935.23 L2123.30,937.55 L2125.20,939.87 L2127.10,942.19 L2129.00,944.52 L2130.90,946.84 L2132.79,949.17 L2134.68,951.50 L2136.57,953.84 L2138.46,956.17 L2140.35,958.51 L2142.23,960.85 L2144.11,963.19 L2145.98,965.54 L2147.85,967.89 L2149.72,970.24 L2151.59,972.59 L2153.46,974.94 L2155.32,977.30 L2157.17,979.66 L2159.03,982.02 L2160.88,984.38 L2162.73,986.75 L2164.57,989.12 L2166.41,991.49 L2168.25,993.87 L2170.09,996.24 L2171.92,998.62 L2173.75,1001.01 L2175.57,1003.39 L2177.39,1005.78 L2179.21,1008.17 L2181.02,1010.56 L2182.83,1012.96 L2184.63,1015.36 L2186.43,1017.76 L2188.23,1020.17 L2190.02,1022.57 L2191.81,1024.98 L2193.60,1027.40 L2195.38,1029.81 L2197.16,1032.23 L2198.93,1034.66 L2200.70,1037.08 L2202.46,1039.51 L2204.22,1041.94 L2205.97,1044.37 L2207.72,1046.81 L2209.47,1049.25 L2211.21,1051.70 L2212.95,1054.14 L2214.68,1056.59 L2216.41,1059.05 L2218.13,1061.50 L2219.85,1063.96 L2221.56,1066.42 L2223.27,1068.89 L2224.97,1071.36 L2226.67,1073.83 L2228.36,1076.31 L2230.05,1078.79 L2231.73,1081.27 L2233.41,1083.76 L2235.08,1086.25 L2236.75,1088.74 L2238.41,1091.24 L2240.07,1093.74 L2241.72,1096.24 L2243.36,1098.75 L2245.00,1101.26 L2246.63,1103.77 L2248.26,1106.29 L2249.89,1108.81 L2251.50,1111.33 L2253.11,1113.86 L2254.72,1116.40 L2256.32,1118.93 L2257.91,1121.47 L2259.50,1124.01 L2261.08,1126.56 L2262.66,1129.11 L2264.22,1131.67 L2265.79,1134.23 L2267.34,1136.79 L2268.89,1139.36 L2270.44,1141.93 L2271.98,1144.50 L2273.51,1147.08 L2275.03,1149.66 L2276.55,1152.25 L2278.06,1154.84 L2279.57,1157.43 L2281.07,1160.03 L2282.56,1162.63 L2284.04,1165.24 L2285.52,1167.85 L2286.99,1170.46 L2288.46,1173.08 L2289.91,1175.70 L2291.37,1178.33 L2292.81,1180.96 L2294.25,1183.60 L2295.67,1186.24 L2297.10,1188.88 L2298.51,1191.53 L2299.92,1194.18 L2301.32,1196.84 L2302.71,1199.50 L2304.10,1202.17 L2305.47,1204.84 L2306.85,1207.51 L2308.21,1210.19 L2309.56,1212.88 L2310.91,1215.56 L2312.25,1218.26 L2313.58,1220.95 L2314.91,1223.65 L2316.22,1226.36 L2317.53,1229.07 L2318.83,1231.79 L2320.12,1234.51 L2321.80,1237.00 L2326.27,1243.64" stroke="#FFC000" stroke-width="5"/>
<path d="M413.00,505.40 L416.00,505.42 L419.00,505.44 L422.01,505.46 L425.01,505.49 L428.01,505.52 L431.02,505.55 L434.02,505.59 L437.02,505.63 L440.03,505.67 L443.03,505.72 L446.03,505.77 L449.03,505.82 L452.03,505.87 L455.04,505.93 L458.04,505.99 L461.04,506.05 L464.04,506.12 L467.04,506.18 L470.04,506.25 L473.05,506.32 L476.05,506.40 L479.05,506.47 L482.05,506.55 L485.05,506.62 L488.05,506.70 L491.05,506.78 L494.05,506.86 L497.05,506.95 L500.05,507.03 L503.05,507.12 L506.05,507.20 L509.05,507.29 L512.05,507.38 L515.05,507.47 L518.05,507.55 L521.05,507.64 L524.05,507.73 L527.05,507.82 L530.05,507.91 L533.05,508.00 L536.05,508.09 L539.05,508.19 L542.05,508.28 L545.05,508.37 L548.05,508.45 L551.05,508.54 L554.05,508.63 L557.05,508.72 L560.05,508.81 L563.05,508.89 L566.06,508.98 L569.06,509.06 L572.06,509.15 L575.06,509.23 L578.06,509.31 L581.06,509.39 L584.06,509.46 L587.06,509.54 L590.06,509.61 L593.06,509.69 L596.06,509.76 L599.06,509.83 L602.06,509.89 L605.06,509.96 L608.07,510.02 L611.07,510.08 L614.07,510.14 L617.07,510.20 L620.07,510.25 L623.07,510.31 L626.08,510.36 L629.08,510.41 L632.08,510.46 L635.08,510.50 L638.08,510.55 L641.09,510.60 L644.09,510.64 L647.09,510.68 L650.09,510.72 L653.09,510.76 L656.10,510.80 L659.10,510.84 L662.10,510.88 L665.11,510.92 L668.11,510.95 L671.11,510.99 L674.11,511.02 L677.12,511.06 L680.12,511.09 L683.12,511.12 L686.12,511.16 L689.13,511.19 L692.13,511.22 L695.13,511.26 L698.14,511.29 L701.14,511.32 L704.14,511.35 L707.15,511.39 L710.15,511.42 L713.15,511.45 L716.15,511.49 L719.16,511.52 L722.16,511.55 L725.16,511.59 L728.17,511.63 L731.17,511.66 L734.17,511.70 L737.17,511.74 L740.18,511.77 L743.18,511.81 L746.18,511.85 L749.19,511.89 L752.19,511.94 L755.19,511.98 L758.19,512.03 L761.20,512.07 L764.20,512.12 L767.20,512.17 L770.20,512.22 L773.21,512.27 L776.21,512.32 L779.21,512.38 L782.21,512.44 L785.22,512.49 L788.22,512.55 L791.22,512.62 L794.22,512.68 L797.22,512.75 L800.23,512.82 L803.23,512.89 L806.23,512.96 L809.23,513.03 L812.23,513.11 L815.23,513.19 L818.23,513.27 L821.24,513.36 L824.24,513.45 L827.24,513.54 L830.24,513.63 L833.24,513.73 L836.24,513.83 L839.24,513.93 L842.24,514.03 L845.24,514.14 L848.24,514.25 L851.24,514.37 L854.24,514.48 L857.24,514.60 L860.24,514.73 L863.24,514.86 L866.24,514.99 L869.24,515.12 L872.24,515.26 L875.24,515.40 L878.24,515.55 L881.23,515.70 L884.23,515.85 L887.23,516.01 L890.23,516.17 L893.23,516.34 L896.22,516.51 L899.22,516.68 L902.22,516.86 L905.22,517.04 L908.21,517.23 L911.21,517.42 L914.21,517.62 L917.20,517.82 L920.20,518.02 L923.20,518.23 L926.19,518.45 L929.19,518.67 L932.18,518.89 L935.18,519.12 L938.17,519.35 L941.16,519.59 L944.16,519.83 L947.15,520.07 L950.14,520.32 L953.14,520.58 L956.13,520.84 L959.12,521.11 L962.11,521.38 L965.10,521.65 L968.09,521.93 L971.08,522.21 L974.07,522.50 L977.06,522.80 L980.05,523.10 L983.04,523.40 L986.02,523.71 L989.01,524.02 L992.00,524.34 L994.98,524.67 L997.97,525.00 L1000.95,525.33 L1003.93,525.67 L1006.92,526.01 L1009.90,526.36 L1012.88,526.72 L1015.86,527.08 L1018.84,527.44 L1021.82,527.81 L1024.80,528.19 L1027.78,528.57 L1030.76,528.96 L1033.73,529.35 L1036.71,529.75 L1039.68,530.15 L1042.66,530.56 L1045.63,530.97 L1048.60,531.39 L1051.58,531.82 L1054.55,532.25 L1057.52,532.68 L1060.48,533.12 L1063.45,533.57 L1066.42,534.02 L1069.39,534.48 L1072.35,534.94 L1075.32,535.41 L1078.28,535.89 L1081.24,536.37 L1084.20,536.86 L1087.16,537.35 L1090.12,537.85 L1093.08,538.35 L1096.04,538.86 L1098.99,539.38 L1101.95,539.90 L1104.90,540.43 L1107.86,540.96 L1110.81,541.50 L1113.76,542.05 L1116.71,542.60 L1119.66,543.16 L1122.60,543.72 L1125.55,544.29 L1128.50,544.87 L1131.44,545.45 L1134.38,546.04 L1137.32,546.63 L1140.26,547.23 L1143.20,547.84 L1146.14,548.45 L1149.07,549.07 L1152.01,549.70 L1154.94,550.33 L1157.87,550.97 L1160.80,551.62 L1163.73,552.27 L1166.66,552.93 L1169.59,553.59 L1172.51,554.26 L1175.44,554.94 L1178.36,555.62 L1181.28,556.32 L1184.20,557.01 L1187.12,557.72 L1190.03,558.43 L1192.95,559.14 L1195.86,559.87 L1198.77,560.60 L1201.68,561.34 L1204.59,562.08 L1207.50,562.83 L1210.41,563.59 L1213.31,564.35 L1216.21,565.13 L1219.11,565.90 L1222.01,566.69 L1224.91,567.48 L1227.81,568.28 L1230.70,569.09 L1233.59,569.90 L1236.48,570.72 L1239.37,571.55 L1242.26,572.38 L1245.14,573.22 L1248.03,574.07 L1250.91,574.93 L1253.79,575.79 L1256.67,576.66 L1259.54,577.55 L1262.41,578.44 L1265.28,579.33 L1268.14,580.24 L1271.01,581.16 L1273.87,582.09 L1276.72,583.02 L1279.57,583.97 L1282.42,584.93 L1285.26,585.90 L1288.10,586.88 L1290.94,587.87 L1293.77,588.87 L1296.60,589.88 L1299.42,590.91 L1302.24,591.94 L1305.05,592.99 L1307.85,594.06 L1310.66,595.13 L1313.45,596.22 L1316.24,597.32 L1319.03,598.44 L1321.81,599.57 L1324.58,600.71 L1327.34,601.87 L1330.10,603.04 L1332.86,604.23 L1335.60,605.43 L1338.34,606.65 L1341.08,607.88 L1343.80,609.13 L1346.52,610.39 L1349.23,611.68 L1351.93,612.97 L1354.63,614.28 L1357.32,615.60 L1360.01,616.94 L1362.69,618.28 L1365.37,619.63 L1368.05,620.99 L1370.73,622.35 L1373.40,623.71 L1376.07,625.08 L1378.74,626.45 L1381.42,627.81 L1384.09,629.18 L1386.77,630.54 L1389.45,631.90 L1392.13,633.25 L1394.81,634.59 L1397.50,635.92 L1400.20,637.25 L1402.89,638.56 L1405.60,639.87 L1408.30,641.18 L1411.01,642.48 L1413.72,643.77 L1416.43,645.06 L1419.14,646.35 L1421.86,647.63 L1424.58,648.90 L1427.29,650.18 L1430.01,651.45 L1432.73,652.73 L1435.45,654.00 L1438.18,655.27 L1440.90,656.54 L1443.62,657.81 L1446.34,659.08 L1449.05,660.36 L1451.77,661.63 L1454.49,662.91 L1457.20,664.19 L1459.92,665.48 L1462.63,666.77 L1465.33,668.07 L1468.04,669.37 L1470.74,670.68 L1473.44,671.99 L1476.13,673.31 L1478.82,674.64 L1481.51,675.98 L1484.19,677.32 L1486.87,678.68 L1489.54,680.04 L1492.21,681.42 L1494.87,682.81 L1497.53,684.20 L1500.18,685.61 L1502.82,687.03 L1505.46,688.46 L1508.10,689.91 L1510.72,691.36 L1513.35,692.82 L1515.97,694.29 L1518.58,695.77 L1521.19,697.26 L1523.79,698.76 L1526.39,700.27 L1528.99,701.78 L1531.58,703.30 L1534.17,704.83 L1536.76,706.36 L1539.34,707.90 L1541.92,709.44 L1544.49,710.99 L1547.07,712.54 L1549.64,714.10 L1552.21,715.67 L1554.77,717.23 L1557.34,718.80 L1559.90,720.37 L1562.46,721.95 L1565.02,723.52 L1567.57,725.10 L1570.13,726.68 L1572.69,728.26 L1575.24,729.84 L1577.79,731.42 L1580.35,733.00 L1582.90,734.58 L1585.45,736.16 L1588.00,737.74 L1590.55,739.31 L1593.11,740.88 L1595.66,742.46 L1598.21,744.03 L1600.76,745.60 L1603.31,747.17 L1605.86,748.74 L1608.41,750.32 L1610.95,751.90 L1613.49,753.49 L1616.02,755.08 L1618.56,756.67 L1621.08,758.28 L1623.61,759.89 L1626.12,761.51 L1628.64,763.14 L1631.14,764.78 L1633.64,766.43 L1636.13,768.09 L1638.62,769.77 L1641.09,771.46 L1643.56,773.16 L1646.02,774.88 L1648.47,776.62 L1650.91,778.37 L1653.35,780.14 L1655.77,781.93 L1658.18,783.73 L1660.57,785.56 L1662.96,787.41 L1665.34,789.27 L1667.71,791.15 L1670.07,793.04 L1672.43,794.94 L1674.77,796.85 L1677.12,798.77 L1679.45,800.70 L1681.78,802.62 L1684.11,804.55 L1686.44,806.48 L1688.76,808.41 L1691.08,810.34 L1693.38,812.28 L1695.67,814.23 L1697.93,816.19 L1700.17,818.17 L1702.37,820.18 L1704.53,822.22 L1706.65,824.29 L1708.73,826.39 L1710.74,828.54 L1712.70,830.74 L1714.59,832.99 L1716.41,835.29 L1718.16,837.65 L1719.85,840.06 L1721.48,842.52 L1723.08,845.01 L1724.64,847.53 L1726.17,850.08 L1727.69,852.65 L1729.21,855.23 L1730.72,857.82 L1732.23,860.42 L1733.74,863.03 L1735.25,865.64 L1736.76,868.25 L1738.29,870.86 L1739.82,873.47 L1741.37,876.07 L1742.93,878.67 L1744.50,881.25 L1746.10,883.82 L1747.72,886.38 L1749.36,888.91 L1751.03,891.43 L1752.73,893.92 L1754.46,896.39 L1756.22,898.83 L1758.02,901.24 L1759.85,903.62 L1761.73,905.96 L1763.65,908.26 L1765.62,910.53 L1767.63,912.75 L1769.69,914.93 L1771.79,917.07 L1773.93,919.16 L1776.12,921.21 L1778.35,923.21 L1780.62,925.16 L1782.93,927.06 L1785.28,928.91 L1787.67,930.71 L1790.09,932.45 L1792.56,934.14 L1795.06,935.77 L1797.59,937.35 L1800.16,938.87 L1802.77,940.33 L1805.41,941.74 L1808.07,943.10 L1810.76,944.42 L1813.46,945.72 L1816.18,946.98 L1818.91,948.23 L1821.64,949.48 L1824.38,950.72 L1827.11,951.97 L1829.84,953.23 L1832.55,954.50 L1835.26,955.80 L1837.96,957.11 L1840.66,958.43 L1843.35,959.76 L1846.03,961.11 L1848.70,962.47 L1851.37,963.84 L1854.04,965.23 L1856.70,966.62 L1859.35,968.01 L1862.01,969.42 L1864.65,970.83 L1867.30,972.24 L1869.95,973.66 L1872.59,975.09 L1875.23,976.52 L1877.87,977.94 L1880.51,979.37 L1883.15,980.80 L1885.79,982.23 L1888.43,983.66 L1891.07,985.08 L1893.72,986.50 L1896.36,987.92 L1899.01,989.33 L1901.66,990.73 L1904.32,992.13 L1906.98,993.51 L1909.65,994.89 L1912.32,996.26 L1914.99,997.62 L1917.67,998.97 L1920.36,1000.31 L1923.05,1001.63 L1925.75,1002.95 L1928.45,1004.26 L1931.15,1005.56 L1933.86,1006.86 L1936.57,1008.15 L1939.29,1009.43 L1942.00,1010.71 L1944.72,1011.99 L1947.44,1013.26 L1950.16,1014.53 L1952.88,1015.80 L1955.60,1017.07 L1958.32,1018.34 L1961.04,1019.61 L1963.76,1020.88 L1966.47,1022.15 L1969.19,1023.43 L1971.90,1024.71 L1974.61,1026.00 L1977.32,1027.29 L1980.02,1028.58 L1982.72,1029.89 L1985.42,1031.20 L1988.11,1032.52 L1990.80,1033.85 L1993.48,1035.19 L1996.15,1036.54 L1998.82,1037.90 L2001.48,1039.27 L2004.14,1040.66 L2006.79,1042.06 L2009.43,1043.47 L2012.06,1044.89 L2014.69,1046.33 L2017.31,1047.77 L2019.93,1049.23 L2022.54,1050.69 L2025.15,1052.17 L2027.75,1053.65 L2030.34,1055.15 L2032.94,1056.66 L2035.52,1058.17 L2038.10,1059.69 L2040.68,1061.22 L2043.25,1062.76 L2045.82,1064.31 L2048.38,1065.86 L2050.94,1067.43 L2053.50,1068.99 L2056.05,1070.57 L2058.60,1072.15 L2061.15,1073.74 L2063.69,1075.33 L2066.23,1076.93 L2068.77,1078.53 L2071.31,1080.14 L2073.84,1081.75 L2076.37,1083.37 L2078.90,1084.99 L2081.43,1086.61 L2083.95,1088.24 L2086.48,1089.86 L2089.00,1091.50 L2091.53,1093.13 L2094.05,1094.77 L2096.57,1096.40 L2099.09,1098.04 L2101.61,1099.68 L2104.13,1101.32 L2106.65,1102.97 L2109.17,1104.61 L2111.69,1106.25 L2114.21,1107.89 L2116.73,1109.53 L2119.25,1111.17 L2121.77,1112.81 L2124.30,1114.44 L2126.82,1116.07 L2129.35,1117.71 L2131.87,1119.33 L2134.41,1120.96 L2136.94,1122.58 L2139.47,1124.20 L2142.01,1125.82 L2144.55,1127.43 L2147.09,1129.04 L2149.63,1130.65 L2152.17,1132.25 L2154.71,1133.86 L2157.26,1135.46 L2159.80,1137.06 L2162.35,1138.66 L2164.89,1140.25 L2167.44,1141.85 L2169.98,1143.45 L2172.52,1145.05 L2175.07,1146.65 L2177.61,1148.25 L2180.15,1149.85 L2182.69,1151.46 L2185.23,1153.06 L2187.76,1154.67 L2190.30,1156.28 L2192.83,1157.89 L2195.36,1159.51 L2197.88,1161.13 L2200.40,1162.75 L2202.92,1164.38 L2205.44,1166.02 L2207.95,1167.65 L2210.46,1169.30 L2212.96,1170.94 L2215.46,1172.60 L2217.96,1174.26 L2220.45,1175.93 L2222.93,1177.60 L2225.41,1179.28 L2227.89,1180.97 L2230.35,1182.66 L2232.82,1184.37 L2235.27,1186.08 L2237.72,1187.80 L2240.16,1189.53 L2242.60,1191.27 L2245.03,1193.02 L2247.45,1194.78 L2249.87,1196.55 L2252.27,1198.33 L2254.67,1200.12 L2257.06,1201.92 L2259.44,1203.73 L2261.82,1205.56 L2264.18,1207.39 L2266.54,1209.24 L2268.88,1211.11 L2271.22,1212.98 L2273.54,1214.87 L2275.86,1216.78 L2278.17,1218.69 L2280.46,1220.63 L2282.75,1222.57 L2285.02,1224.53 L2287.28,1226.51 L2289.54,1228.50 L2291.78,1230.51 L2294.01,1232.54 L2296.22,1234.58 L2298.43,1236.64 L2300.62,1238.72 L2302.80,1240.81 L2304.96,1242.92 L2307.11,1245.05 L2309.25,1247.20 L2311.38,1249.37 L2313.49,1251.56 L2315.59,1253.76 L2317.67,1255.99 L2319.74,1258.24 L2321.80,1260.50 L2327.18,1266.42" stroke="#9370E2"/>
<path d="M413.00,505.40 L416.00,505.42 L419.00,505.44 L422.01,505.46 L425.01,505.49 L428.01,505.52 L431.02,505.55 L434.02,505.59 L437.02,505.63 L440.03,505.67 L443.03,505.72 L446.03,505.77 L449.03,505.82 L452.03,505.87 L455.04,505.93 L458.04,505.99 L461.04,506.05 L464.04,506.12 L467.04,506.18 L470.04,506.25 L473.05,506.32 L476.05,506.40 L479.05,506.47 L482.05,506.55 L485.05,506.62 L488.05,506.70 L491.05,506.78 L494.05,506.86 L497.05,506.95 L500.05,507.03 L503.05,507.12 L506.05,507.20 L509.05,507.29 L512.05,507.38 L515.05,507.47 L518.05,507.55 L521.05,507.64 L524.05,507.73 L527.05,507.82 L530.05,507.91 L533.05,508.00 L536.05,508.09 L539.05,508.19 L542.05,508.28 L545.05,508.37 L548.05,508.45 L551.05,508.54 L554.05,508.63 L557.05,508.72 L560.05,508.81 L563.05,508.89 L566.06,508.98 L569.06,509.06 L572.06,509.15 L575.06,509.23 L578.06,509.31 L581.06,509.39 L584.06,509.46 L587.06,509.54 L590.06,509.61 L593.06,509.69 L596.06,509.76 L599.06,509.83 L602.06,509.89 L605.06,509.96 L608.07,510.02 L611.07,510.08 L614.07,510.14 L617.07,510.20 L620.07,510.25 L623.07,510.31 L626.08,510.36 L629.08,510.41 L632.08,510.46 L635.08,510.50 L638.08,510.55 L641.09,510.60 L644.09,510.64 L647.09,510.68 L650.09,510.72 L653.09,510.76 L656.10,510.80 L659.10,510.84 L662.10,510.88 L665.11,510.92 L668.11,510.95 L671.11,510.99 L674.11,511.02 L677.12,511.06 L680.12,511.09 L683.12,511.12 L686.12,511.16 L689.13,511.19 L692.13,511.22 L695.13,511.26 L698.14,511.29 L701.14,511.32 L704.14,511.35 L707.15,511.39 L710.15,511.42 L713.15,511.45 L716.15,511.49 L719.16,511.52 L722.16,511.55 L725.16,511.59 L728.17,511.63 L731.17,511.66 L734.17,511.70 L737.17,511.74 L740.18,511.77 L743.18,511.81 L746.18,511.85 L749.19,511.89 L752.19,511.94 L755.19,511.98 L758.19,512.03 L761.20,512.07 L764.20,512.12 L767.20,512.17 L770.20,512.22 L773.21,512.27 L776.21,512.32 L779.21,512.38 L782.21,512.44 L785.22,512.49 L788.22,512.55 L791.22,512.62 L794.22,512.68 L797.22,512.75 L800.23,512.82 L803.23,512.89 L806.23,512.96 L809.23,513.03 L812.23,513.11 L815.23,513.19 L818.23,513.27 L821.24,513.36 L824.24,513.45 L827.24,513.54 L830.24,513.63 L833.24,513.73 L836.24,513.83 L839.24,513.93 L842.24,514.03 L845.24,514.14 L848.24,514.25 L851.24,514.37 L854.24,514.48 L857.24,514.60 L860.24,514.73 L863.24,514.86 L866.24,514.99 L869.24,515.12 L872.24,515.26 L875.24,515.40 L878.24,515.55 L881.23,515.70 L884.23,515.85 L887.23,516.01 L890.23,516.17 L893.23,516.34 L896.22,516.51 L899.22,516.68 L902.22,516.86 L905.22,517.04 L908.21,517.23 L911.21,517.42 L914.21,517.62 L917.20,517.82 L920.20,518.02 L923.20,518.23 L926.19,518.45 L929.19,518.67 L932.18,518.89 L935.18,519.12 L938.17,519.35 L941.16,519.59 L944.16,519.83 L947.15,520.07 L950.14,520.32 L953.14,520.58 L956.13,520.84 L959.12,521.11 L962.11,521.38 L965.10,521.65 L968.09,521.93 L971.08,522.21 L974.07,522.50 L977.06,522.80 L980.05,523.10 L983.04,523.40 L986.02,523.71 L989.01,524.02 L992.00,524.34 L994.98,524.67 L997.97,525.00 L1000.95,525.33 L1003.93,525.67 L1006.92,526.01 L1009.90,526.36 L1012.88,526.72 L1015.86,527.08 L1018.84,527.44 L1021.82,527.81 L1024.80,528.19 L1027.78,528.57 L1030.76,528.96 L1033.73,529.35 L1036.71,529.75 L1039.68,530.15 L1042.66,530.56 L1045.63,530.97 L1048.60,531.39 L1051.58,531.82 L1054.55,532.25 L1057.52,532.68 L1060.48,533.12 L1063.45,533.57 L1066.42,534.02 L1069.39,534.48 L1072.35,534.94 L1075.32,535.41 L1078.28,535.89 L1081.24,536.37 L1084.20,536.86 L1087.16,537.35 L1090.12,537.85 L1093.08,538.35 L1096.04,538.86 L1098.99,539.38 L1101.95,539.90 L1104.90,540.43 L1107.86,540.96 L1110.81,541.50 L1113.76,542.05 L1116.71,542.60 L1119.66,543.16 L1122.60,543.72 L1125.55,544.29 L1128.50,544.87 L1131.44,545.45 L1134.38,546.04 L1137.32,546.63 L1140.26,547.23 L1143.20,547.84 L1146.14,548.45 L1149.07,549.07 L1152.01,549.70 L1154.94,550.33 L1157.87,550.97 L1160.80,551.62 L1163.73,552.27 L1166.66,552.93 L1169.59,553.59 L1172.51,554.26 L1175.44,554.94 L1178.36,555.62 L1181.28,556.32 L1184.20,557.01 L1187.12,557.72 L1190.03,558.43 L1192.95,559.14 L1195.86,559.87 L1198.77,560.60 L1201.68,561.34 L1204.59,562.08 L1207.50,562.83 L1210.41,563.59 L1213.31,564.35 L1216.21,565.13 L1219.11,565.90 L1222.01,566.69 L1224.91,567.48 L1227.81,568.28 L1230.70,569.09 L1233.59,569.90 L1236.48,570.72 L1239.37,571.55 L1242.26,572.38 L1245.14,573.22 L1248.03,574.07 L1250.91,574.93 L1253.79,575.79 L1256.67,576.66 L1259.54,577.55 L1262.41,578.44 L1265.28,579.33 L1268.14,580.24 L1271.01,581.16 L1273.87,582.09 L1276.72,583.02 L1279.57,583.97 L1282.42,584.93 L1285.26,585.90 L1288.10,586.88 L1290.94,587.87 L1293.77,588.87 L1296.60,589.88 L1299.42,590.91 L1302.24,591.94 L1305.05,592.99 L1307.85,594.06 L1310.66,595.13 L1313.45,596.22 L1316.24,597.32 L1319.03,598.44 L1321.81,599.57 L1324.58,600.71 L1327.34,601.87 L1330.10,603.04 L1332.86,604.23 L1335.60,605.43 L1338.34,606.65 L1341.08,607.88 L1343.80,609.13 L1346.52,610.39 L1349.23,611.68 L1351.93,612.97 L1354.63,614.28 L1357.32,615.60 L1360.01,616.94 L1362.69,618.28 L1365.37,619.63 L1368.05,620.99 L1370.73,622.35 L1373.40,623.71 L1376.07,625.08 L1378.74,626.45 L1381.42,627.81 L1384.09,629.18 L1386.77,630.54 L1389.45,631.90 L1392.13,633.25 L1394.81,634.59 L1397.50,635.92 L1400.20,637.25 L1402.89,638.56 L1405.60,639.87 L1408.30,641.18 L1411.01,642.48 L1413.72,643.77 L1416.43,645.06 L1419.14,646.35 L1421.86,647.63 L1424.58,648.90 L1427.29,650.18 L1430.01,651.45 L1432.73,652.73 L1435.45,654.00 L1438.18,655.27 L1440.90,656.54 L1443.62,657.81 L1446.34,659.08 L1449.05,660.36 L1451.77,661.63 L1454.49,662.91 L1457.20,664.19 L1459.92,665.48 L1462.63,666.77 L1465.33,668.07 L1468.04,669.37 L1470.74,670.68 L1473.44,671.99 L1476.13,673.31 L1478.82,674.64 L1481.51,675.98 L1484.19,677.32 L1486.87,678.68 L1489.54,680.04 L1492.21,681.42 L1494.87,682.81 L1497.53,684.20 L1500.18,685.61 L1502.82,687.03 L1505.46,688.46 L1508.10,689.91 L1510.72,691.36 L1513.35,692.82 L1515.97,694.29 L1518.58,695.77 L1521.19,697.26 L1523.79,698.76 L1526.39,700.27 L1528.99,701.78 L1531.58,703.30 L1534.17,704.83 L1536.76,706.36 L1539.34,707.90 L1541.92,709.44 L1544.49,710.99 L1547.07,712.54 L1549.64,714.10 L1552.21,715.67 L1554.77,717.23 L1557.34,718.80 L1559.90,720.37 L1562.46,721.95 L1565.02,723.52 L1567.57,725.10 L1570.13,726.68 L1572.69,728.26 L1575.24,729.84 L1577.79,731.42 L1580.35,733.00 L1582.90,734.58 L1585.45,736.16 L1588.00,737.74 L1590.55,739.31 L1593.11,740.88 L1595.66,742.46 L1598.21,744.03 L1600.76,745.60 L1603.31,747.17 L1605.86,748.74 L1608.41,750.32 L1610.95,751.90 L1613.49,753.49 L1616.02,755.08 L1618.56,756.67 L1621.08,758.28 L1623.61,759.89 L1626.12,761.51 L1628.64,763.14 L1631.14,764.78 L1633.64,766.43 L1636.13,768.09 L1638.62,769.77 L1641.09,771.46 L1643.56,773.16 L1646.02,774.88 L1648.47,776.62 L1650.91,778.37 L1653.35,780.14 L1655.77,781.93 L1658.18,783.73 L1660.57,785.56 L1662.96,787.41 L1665.34,789.27 L1667.71,791.15 L1670.07,793.04 L1672.43,794.94 L1674.77,796.85 L1677.12,798.77 L1679.45,800.70 L1681.78,802.62 L1684.11,804.55 L1686.44,806.48 L1688.76,808.41 L1691.08,810.34 L1693.38,812.28 L1695.67,814.23 L1697.93,816.19 L1700.17,818.17 L1702.37,820.18 L1704.53,822.22 L1706.65,824.29 L1708.73,826.39 L1710.74,828.54 L1712.70,830.74 L1714.59,832.99 L1716.41,835.29 L1718.16,837.65 L1719.85,840.06 L1721.48,842.52 L1723.08,845.01 L1724.64,847.53 L1726.17,850.08 L1727.69,852.65 L1729.21,855.23 L1730.72,857.82 L1732.23,860.42 L1733.74,863.03 L1735.25,865.64 L1736.76,868.25 L1738.29,870.86 L1739.82,873.47 L1741.37,876.07 L1742.93,878.67 L1744.50,881.25 L1746.10,883.82 L1747.72,886.38 L1749.36,888.91 L1751.03,891.43 L1752.73,893.92 L1754.46,896.39 L1756.22,898.83 L1758.02,901.24 L1759.85,903.62 L1761.73,905.96 L1763.65,908.26 L1765.62,910.53 L1767.63,912.75 L1769.69,914.93 L1771.79,917.07 L1773.93,919.16 L1776.12,921.21 L1778.35,923.21 L1780.62,925.16 L1782.93,927.06 L1785.28,928.91 L1787.67,930.71 L1790.09,932.45 L1792.56,934.14 L1795.06,935.77 L1797.59,937.35 L1800.16,938.87 L1802.77,940.33 L1805.41,941.74 L1808.07,943.10 L1810.76,944.42 L1813.46,945.72 L1816.18,946.98 L1818.91,948.23 L1821.64,949.48 L1824.38,950.72 L1827.11,951.97 L1829.84,953.23 L1832.55,954.50 L1835.26,955.80 L1837.96,957.11 L1840.66,958.43 L1843.35,959.76 L1846.03,961.11 L1848.70,962.47 L1851.37,963.84 L1854.04,965.23 L1856.70,966.62 L1859.35,968.01 L1862.01,969.42 L1864.65,970.83 L1867.30,972.24 L1869.95,973.66 L1872.59,975.09 L1875.23,976.52 L1877.87,977.94 L1880.51,979.37 L1883.15,980.80 L1885.79,982.23 L1888.43,983.66 L1891.07,985.08 L1893.72,986.50 L1896.36,987.92 L1899.01,989.33 L1901.66,990.73 L1904.32,992.13 L1906.98,993.51 L1909.65,994.89 L1912.32,996.26 L1914.99,997.62 L1917.67,998.97 L1920.36,1000.31 L1923.05,1001.63 L1925.75,1002.95 L1928.45,1004.26 L1931.15,1005.56 L1933.86,1006.86 L1936.57,1008.15 L1939.29,1009.43 L1942.00,1010.71 L1944.72,1011.99 L1947.44,1013.26 L1950.16,1014.53 L1952.88,1015.80 L1955.60,1017.07 L1958.32,1018.34 L1961.04,1019.61 L1963.76,1020.88 L1966.47,1022.15 L1969.19,1023.43 L1971.90,1024.71 L1974.61,1026.00 L1977.32,1027.29 L1980.02,1028.58 L1982.72,1029.89 L1985.42,1031.20 L1988.11,1032.52 L1990.80,1033.85 L1993.48,1035.19 L1996.15,1036.54 L1998.82,1037.90 L2001.48,1039.27 L2004.14,1040.66 L2006.79,1042.06 L2009.43,1043.47 L2012.06,1044.89 L2014.69,1046.33 L2017.31,1047.77 L2019.93,1049.23 L2022.54,1050.69 L2025.15,1052.17 L2027.75,1053.65 L2030.34,1055.15 L2032.94,1056.66 L2035.52,1058.17 L2038.10,1059.69 L2040.68,1061.22 L2043.25,1062.76 L2045.82,1064.31 L2048.38,1065.86 L2050.94,1067.43 L2053.50,1068.99 L2056.05,1070.57 L2058.60,1072.15 L2061.15,1073.74 L2063.69,1075.33 L2066.23,1076.93 L2068.77,1078.53 L2071.31,1080.14 L2073.84,1081.75 L2076.37,1083.37 L2078.90,1084.99 L2081.43,1086.61 L2083.95,1088.24 L2086.48,1089.86 L2089.00,1091.50 L2091.53,1093.13 L2094.05,1094.77 L2096.57,1096.40 L2099.09,1098.04 L2101.61,1099.68 L2104.13,1101.32 L2106.65,1102.97 L2109.17,1104.61 L2111.69,1106.25 L2114.21,1107.89 L2116.73,1109.53 L2119.25,1111.17 L2121.77,1112.81 L2124.30,1114.44 L2126.82,1116.07 L2129.35,1117.71 L2131.87,1119.33 L2134.41,1120.96 L2136.94,1122.58 L2139.47,1124.20 L2142.01,1125.82 L2144.55,1127.43 L2147.09,1129.04 L2149.63,1130.65 L2152.17,1132.25 L2154.71,1133.86 L2157.26,1135.46 L2159.80,1137.06 L2162.35,1138.66 L2164.89,1140.25 L2167.44,1141.85 L2169.98,1143.45 L2172.52,1145.05 L2175.07,1146.65 L2177.61,1148.25 L2180.15,1149.85 L2182.69,1151.46 L2185.23,1153.06 L2187.76,1154.67 L2190.30,1156.28 L2192.83,1157.89 L2195.36,1159.51 L2197.88,1161.13 L2200.40,1162.75 L2202.92,1164.38 L2205.44,1166.02 L2207.95,1167.65 L2210.46,1169.30 L2212.96,1170.94 L2215.46,1172.60 L2217.96,1174.26 L2220.45,1175.93 L2222.93,1177.60 L2225.41,1179.28 L2227.89,1180.97 L2230.35,1182.66 L2232.82,1184.37 L2235.27,1186.08 L2237.72,1187.80 L2240.16,1189.53 L2242.60,1191.27 L2245.03,1193.02 L2247.45,1194.78 L2249.87,1196.55 L2252.27,1198.33 L2254.67,1200.12 L2257.06,1201.92 L2259.44,1203.73 L2261.82,1205.56 L2264.18,1207.39 L2266.54,1209.24 L2268.88,1211.11 L2271.22,1212.98 L2273.54,1214.87 L2275.86,1216.78 L2278.17,1218.69 L2280.46,1220.63 L2282.75,1222.57 L2285.02,1224.53 L2287.28,1226.51 L2289.54,1228.50 L2291.78,1230.51 L2294.01,1232.54 L2296.22,1234.58 L2298.43,1236.64 L2300.62,1238.72 L2302.80,1240.81 L2304.96,1242.92 L2307.11,1245.05 L2309.25,1247.20 L2311.38,1249.37 L2313.49,1251.56 L2315.59,1253.76 L2317.67,1255.99 L2319.74,1258.24 L2321.80,1260.50 L2327.18,1266.42" stroke="#9370E2" stroke-width="5"/>
</g>
<path d="M447.0,141 H626.0" stroke="#334139" stroke-width="10" stroke-linecap="round"/>
<path d="M877.7,141 H1055.8" stroke="#00B43E" stroke-width="10" stroke-linecap="round"/>
<path d="M1194.3,141 H1371.7" stroke="#FFC000" stroke-width="10" stroke-linecap="round"/>
<path d="M1602.4,141 H1780.6" stroke="#9370E2" stroke-width="10" stroke-linecap="round"/>
</svg></body></html>
